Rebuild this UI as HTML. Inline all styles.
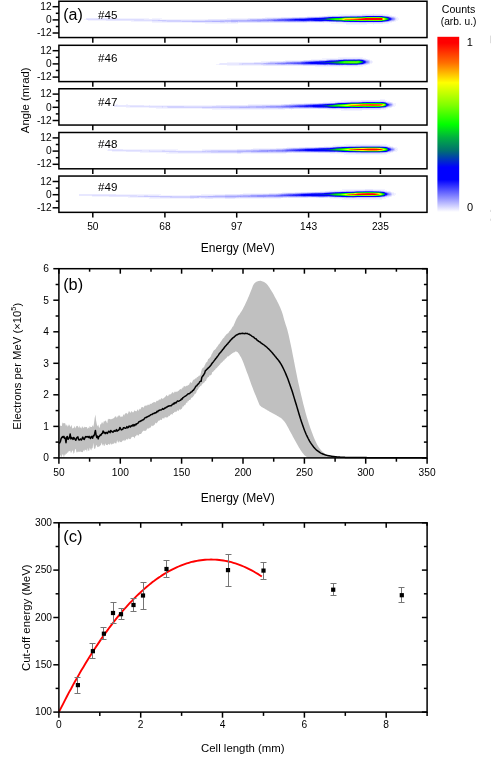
<!DOCTYPE html>
<html><head><meta charset="utf-8"><title>Figure</title>
<style>html,body{margin:0;padding:0;background:#fff;}body{width:491px;height:758px;overflow:hidden;}svg{display:block;will-change:transform;}text{font-family:"Liberation Sans",sans-serif;fill:#000;}</style>
</head><body>
<svg width="491" height="758" viewBox="0 0 491 758">
<defs>
<linearGradient id="cb" x1="0" y1="0" x2="0" y2="1">
<stop offset="0" stop-color="#ff0000"/>
<stop offset="0.035" stop-color="#ff0000"/>
<stop offset="0.15" stop-color="#ff7000"/>
<stop offset="0.262" stop-color="#ffff00"/>
<stop offset="0.39" stop-color="#80ff00"/>
<stop offset="0.5" stop-color="#00ff00"/>
<stop offset="0.575" stop-color="#00b040"/>
<stop offset="0.65" stop-color="#007070"/>
<stop offset="0.745" stop-color="#0000ff"/>
<stop offset="0.815" stop-color="#0000ff"/>
<stop offset="1" stop-color="#ffffff"/>
</linearGradient>
<filter id="b1" x="-5%" y="-100%" width="110%" height="300%"><feGaussianBlur stdDeviation="1.1 0.7"/></filter>
<filter id="b2" x="-5%" y="-100%" width="110%" height="300%"><feGaussianBlur stdDeviation="0.8 0.45"/></filter>
<filter id="b3" x="-5%" y="-200%" width="110%" height="500%"><feGaussianBlur stdDeviation="2 1.2"/></filter>
</defs>
<rect width="491" height="758" fill="#fff"/>
<defs>
<filter id="cm" filterUnits="userSpaceOnUse" x="60" y="0" width="366.5" height="213" color-interpolation-filters="sRGB">
<feColorMatrix type="matrix" values="0 0 0 1 0  0 0 0 1 0  0 0 0 1 0  0 0 0 0 1"/>
<feComponentTransfer><feFuncR type="table" tableValues="1 0.913 0.826 0.74 0.653 0.566 0.479 0.392 0.306 0.219 0.132 0.045 0 0 0 0 0 0 0 0 0 0 0 0 0 0 0 0 0 0 0 0 0 0.071 0.142 0.213 0.284 0.355 0.426 0.497 0.559 0.62 0.681 0.742 0.803 0.864 0.925 0.986 1 1 1 1 1 1 1 1 1 1 1 1 1 1 1 1 1 1 1 1 1 1 1 1 1 1 1 1 1 1 1 1 1 1 1 1 1 1 1 1 1 1 1 1 1 1 1 1 1 1 1 1 1 1 1 1 1 1 1 1 1 1 1 1 1 1 1 1 1 1 1 1 1 1 1 1 1 1 1 1 1"/><feFuncG type="table" tableValues="1 0.913 0.826 0.74 0.653 0.566 0.479 0.392 0.306 0.219 0.132 0.045 0 0 0 0 0.044 0.113 0.181 0.25 0.319 0.388 0.452 0.501 0.549 0.598 0.647 0.697 0.758 0.818 0.879 0.939 1 1 1 1 1 1 1 1 1 1 1 1 1 1 1 1 0.94 0.862 0.784 0.706 0.627 0.549 0.471 0.399 0.33 0.261 0.192 0.124 0.055 0 0 0 0 0 0 0 0 0 0 0 0 0 0 0 0 0 0 0 0 0 0 0 0 0 0 0 0 0 0 0 0 0 0 0 0 0 0 0 0 0 0 0 0 0 0 0 0 0 0 0 0 0 0 0 0 0 0 0 0 0 0 0 0 0 0 0 0"/><feFuncB type="table" tableValues="1 1 1 1 1 1 1 1 1 1 1 1 1 1 1 1 0.944 0.857 0.769 0.681 0.594 0.507 0.431 0.394 0.357 0.32 0.283 0.244 0.195 0.146 0.098 0.049 0 0 0 0 0 0 0 0 0 0 0 0 0 0 0 0 0 0 0 0 0 0 0 0 0 0 0 0 0 0 0 0 0 0 0 0 0 0 0 0 0 0 0 0 0 0 0 0 0 0 0 0 0 0 0 0 0 0 0 0 0 0 0 0 0 0 0 0 0 0 0 0 0 0 0 0 0 0 0 0 0 0 0 0 0 0 0 0 0 0 0 0 0 0 0 0 0"/></feComponentTransfer>
</filter>
<filter id="sb1" filterUnits="userSpaceOnUse" x="60" y="0" width="366" height="213"><feGaussianBlur stdDeviation="0 1.0"/></filter>
<filter id="sb2" filterUnits="userSpaceOnUse" x="60" y="0" width="366" height="213"><feGaussianBlur stdDeviation="0 1.6"/></filter>
<filter id="sb3" filterUnits="userSpaceOnUse" x="60" y="0" width="366" height="213"><feGaussianBlur stdDeviation="0 2.1"/></filter>
</defs>
<defs>
<linearGradient id="g0T" gradientUnits="userSpaceOnUse" x1="83.0" x2="399.2">
<stop offset="0.000" stop-color="#fff" stop-opacity="0"/>
<stop offset="0.016" stop-color="#fff" stop-opacity="0.007"/>
<stop offset="0.035" stop-color="#fff" stop-opacity="0.007"/>
<stop offset="0.054" stop-color="#fff" stop-opacity="0.007"/>
<stop offset="0.073" stop-color="#fff" stop-opacity="0.008"/>
<stop offset="0.092" stop-color="#fff" stop-opacity="0.008"/>
<stop offset="0.111" stop-color="#fff" stop-opacity="0.008"/>
<stop offset="0.130" stop-color="#fff" stop-opacity="0.008"/>
<stop offset="0.149" stop-color="#fff" stop-opacity="0.008"/>
<stop offset="0.167" stop-color="#fff" stop-opacity="0.009"/>
<stop offset="0.186" stop-color="#fff" stop-opacity="0.009"/>
<stop offset="0.204" stop-color="#fff" stop-opacity="0.009"/>
<stop offset="0.222" stop-color="#fff" stop-opacity="0.009"/>
<stop offset="0.241" stop-color="#fff" stop-opacity="0.01"/>
<stop offset="0.259" stop-color="#fff" stop-opacity="0.01"/>
<stop offset="0.278" stop-color="#fff" stop-opacity="0.01"/>
<stop offset="0.296" stop-color="#fff" stop-opacity="0.01"/>
<stop offset="0.315" stop-color="#fff" stop-opacity="0.01"/>
<stop offset="0.333" stop-color="#fff" stop-opacity="0.01"/>
<stop offset="0.352" stop-color="#fff" stop-opacity="0.01"/>
<stop offset="0.370" stop-color="#fff" stop-opacity="0.01"/>
<stop offset="0.388" stop-color="#fff" stop-opacity="0.01"/>
<stop offset="0.406" stop-color="#fff" stop-opacity="0.01"/>
<stop offset="0.425" stop-color="#fff" stop-opacity="0.01"/>
<stop offset="0.443" stop-color="#fff" stop-opacity="0.01"/>
<stop offset="0.461" stop-color="#fff" stop-opacity="0.01"/>
<stop offset="0.479" stop-color="#fff" stop-opacity="0.01"/>
<stop offset="0.497" stop-color="#fff" stop-opacity="0.009"/>
<stop offset="0.515" stop-color="#fff" stop-opacity="0.009"/>
<stop offset="0.532" stop-color="#fff" stop-opacity="0.009"/>
<stop offset="0.548" stop-color="#fff" stop-opacity="0.009"/>
<stop offset="0.564" stop-color="#fff" stop-opacity="0.008"/>
<stop offset="0.591" stop-color="#fff" stop-opacity="0.009"/>
<stop offset="0.612" stop-color="#fff" stop-opacity="0.011"/>
<stop offset="0.633" stop-color="#fff" stop-opacity="0.012"/>
<stop offset="0.653" stop-color="#fff" stop-opacity="0.013"/>
<stop offset="0.674" stop-color="#fff" stop-opacity="0.014"/>
<stop offset="0.696" stop-color="#fff" stop-opacity="0.015"/>
<stop offset="0.719" stop-color="#fff" stop-opacity="0.015"/>
<stop offset="0.736" stop-color="#fff" stop-opacity="0.016"/>
<stop offset="0.753" stop-color="#fff" stop-opacity="0.016"/>
<stop offset="0.766" stop-color="#fff" stop-opacity="0.018"/>
<stop offset="0.785" stop-color="#fff" stop-opacity="0.026"/>
<stop offset="0.798" stop-color="#fff" stop-opacity="0.031"/>
<stop offset="0.817" stop-color="#fff" stop-opacity="0.035"/>
<stop offset="0.829" stop-color="#fff" stop-opacity="0.046"/>
<stop offset="0.855" stop-color="#fff" stop-opacity="0.05"/>
<stop offset="0.864" stop-color="#fff" stop-opacity="0.051"/>
<stop offset="0.880" stop-color="#fff" stop-opacity="0.04"/>
<stop offset="0.899" stop-color="#fff" stop-opacity="0.027"/>
<stop offset="0.905" stop-color="#fff" stop-opacity="0.022"/>
<stop offset="0.918" stop-color="#fff" stop-opacity="0.028"/>
<stop offset="0.935" stop-color="#fff" stop-opacity="0.034"/>
<stop offset="0.945" stop-color="#fff" stop-opacity="0.035"/>
<stop offset="0.948" stop-color="#fff" stop-opacity="0.03"/>
<stop offset="0.958" stop-color="#fff" stop-opacity="0.022"/>
<stop offset="0.965" stop-color="#fff" stop-opacity="0.015"/>
<stop offset="0.969" stop-color="#fff" stop-opacity="0.01"/>
<stop offset="0.977" stop-color="#fff" stop-opacity="0.005"/>
<stop offset="0.991" stop-color="#fff" stop-opacity="0.001"/>
<stop offset="1.000" stop-color="#fff" stop-opacity="0"/>
</linearGradient>
<linearGradient id="g0M" gradientUnits="userSpaceOnUse" x1="83.0" x2="399.2">
<stop offset="0.000" stop-color="#fff" stop-opacity="0"/>
<stop offset="0.016" stop-color="#fff" stop-opacity="0.006"/>
<stop offset="0.035" stop-color="#fff" stop-opacity="0.007"/>
<stop offset="0.054" stop-color="#fff" stop-opacity="0.007"/>
<stop offset="0.073" stop-color="#fff" stop-opacity="0.008"/>
<stop offset="0.092" stop-color="#fff" stop-opacity="0.009"/>
<stop offset="0.111" stop-color="#fff" stop-opacity="0.009"/>
<stop offset="0.130" stop-color="#fff" stop-opacity="0.01"/>
<stop offset="0.149" stop-color="#fff" stop-opacity="0.011"/>
<stop offset="0.167" stop-color="#fff" stop-opacity="0.012"/>
<stop offset="0.186" stop-color="#fff" stop-opacity="0.012"/>
<stop offset="0.204" stop-color="#fff" stop-opacity="0.013"/>
<stop offset="0.222" stop-color="#fff" stop-opacity="0.014"/>
<stop offset="0.241" stop-color="#fff" stop-opacity="0.015"/>
<stop offset="0.259" stop-color="#fff" stop-opacity="0.016"/>
<stop offset="0.278" stop-color="#fff" stop-opacity="0.018"/>
<stop offset="0.296" stop-color="#fff" stop-opacity="0.019"/>
<stop offset="0.315" stop-color="#fff" stop-opacity="0.02"/>
<stop offset="0.333" stop-color="#fff" stop-opacity="0.021"/>
<stop offset="0.352" stop-color="#fff" stop-opacity="0.022"/>
<stop offset="0.370" stop-color="#fff" stop-opacity="0.023"/>
<stop offset="0.388" stop-color="#fff" stop-opacity="0.026"/>
<stop offset="0.406" stop-color="#fff" stop-opacity="0.029"/>
<stop offset="0.425" stop-color="#fff" stop-opacity="0.032"/>
<stop offset="0.443" stop-color="#fff" stop-opacity="0.035"/>
<stop offset="0.461" stop-color="#fff" stop-opacity="0.038"/>
<stop offset="0.479" stop-color="#fff" stop-opacity="0.041"/>
<stop offset="0.497" stop-color="#fff" stop-opacity="0.045"/>
<stop offset="0.515" stop-color="#fff" stop-opacity="0.048"/>
<stop offset="0.532" stop-color="#fff" stop-opacity="0.054"/>
<stop offset="0.548" stop-color="#fff" stop-opacity="0.06"/>
<stop offset="0.564" stop-color="#fff" stop-opacity="0.067"/>
<stop offset="0.591" stop-color="#fff" stop-opacity="0.076"/>
<stop offset="0.612" stop-color="#fff" stop-opacity="0.096"/>
<stop offset="0.633" stop-color="#fff" stop-opacity="0.116"/>
<stop offset="0.653" stop-color="#fff" stop-opacity="0.137"/>
<stop offset="0.674" stop-color="#fff" stop-opacity="0.159"/>
<stop offset="0.696" stop-color="#fff" stop-opacity="0.18"/>
<stop offset="0.719" stop-color="#fff" stop-opacity="0.201"/>
<stop offset="0.736" stop-color="#fff" stop-opacity="0.228"/>
<stop offset="0.753" stop-color="#fff" stop-opacity="0.255"/>
<stop offset="0.766" stop-color="#fff" stop-opacity="0.273"/>
<stop offset="0.785" stop-color="#fff" stop-opacity="0.409"/>
<stop offset="0.798" stop-color="#fff" stop-opacity="0.487"/>
<stop offset="0.817" stop-color="#fff" stop-opacity="0.546"/>
<stop offset="0.829" stop-color="#fff" stop-opacity="0.721"/>
<stop offset="0.855" stop-color="#fff" stop-opacity="0.77"/>
<stop offset="0.864" stop-color="#fff" stop-opacity="0.792"/>
<stop offset="0.880" stop-color="#fff" stop-opacity="0.854"/>
<stop offset="0.899" stop-color="#fff" stop-opacity="0.968"/>
<stop offset="0.905" stop-color="#fff" stop-opacity="0.995"/>
<stop offset="0.918" stop-color="#fff" stop-opacity="1"/>
<stop offset="0.935" stop-color="#fff" stop-opacity="0.998"/>
<stop offset="0.945" stop-color="#fff" stop-opacity="0.919"/>
<stop offset="0.948" stop-color="#fff" stop-opacity="0.754"/>
<stop offset="0.958" stop-color="#fff" stop-opacity="0.505"/>
<stop offset="0.965" stop-color="#fff" stop-opacity="0.322"/>
<stop offset="0.969" stop-color="#fff" stop-opacity="0.2"/>
<stop offset="0.977" stop-color="#fff" stop-opacity="0.1"/>
<stop offset="0.991" stop-color="#fff" stop-opacity="0.02"/>
<stop offset="1.000" stop-color="#fff" stop-opacity="0"/>
</linearGradient>
<linearGradient id="g5W" gradientUnits="userSpaceOnUse" x1="306.2" x2="399.2">
<stop offset="0.000" stop-color="#fff" stop-opacity="0"/>
<stop offset="0.043" stop-color="#fff" stop-opacity="0.002"/>
<stop offset="0.124" stop-color="#fff" stop-opacity="0.009"/>
<stop offset="0.204" stop-color="#fff" stop-opacity="0.016"/>
<stop offset="0.269" stop-color="#fff" stop-opacity="0.031"/>
<stop offset="0.312" stop-color="#fff" stop-opacity="0.043"/>
<stop offset="0.376" stop-color="#fff" stop-opacity="0.058"/>
<stop offset="0.419" stop-color="#fff" stop-opacity="0.086"/>
<stop offset="0.505" stop-color="#fff" stop-opacity="0.11"/>
<stop offset="0.591" stop-color="#fff" stop-opacity="0.139"/>
<stop offset="0.656" stop-color="#fff" stop-opacity="0.152"/>
<stop offset="0.720" stop-color="#fff" stop-opacity="0.159"/>
<stop offset="0.780" stop-color="#fff" stop-opacity="0.158"/>
<stop offset="0.812" stop-color="#fff" stop-opacity="0.147"/>
<stop offset="0.825" stop-color="#fff" stop-opacity="0.121"/>
<stop offset="0.857" stop-color="#fff" stop-opacity="0.082"/>
<stop offset="0.880" stop-color="#fff" stop-opacity="0.052"/>
<stop offset="0.896" stop-color="#fff" stop-opacity="0.033"/>
<stop offset="0.923" stop-color="#fff" stop-opacity="0.016"/>
<stop offset="0.968" stop-color="#fff" stop-opacity="0.003"/>
<stop offset="1.000" stop-color="#fff" stop-opacity="0"/>
</linearGradient>
<linearGradient id="g1T" gradientUnits="userSpaceOnUse" x1="212.0" x2="373.4">
<stop offset="0.000" stop-color="#fff" stop-opacity="0"/>
<stop offset="0.040" stop-color="#fff" stop-opacity="0.003"/>
<stop offset="0.081" stop-color="#fff" stop-opacity="0.005"/>
<stop offset="0.118" stop-color="#fff" stop-opacity="0.006"/>
<stop offset="0.155" stop-color="#fff" stop-opacity="0.007"/>
<stop offset="0.192" stop-color="#fff" stop-opacity="0.008"/>
<stop offset="0.229" stop-color="#fff" stop-opacity="0.008"/>
<stop offset="0.266" stop-color="#fff" stop-opacity="0.009"/>
<stop offset="0.304" stop-color="#fff" stop-opacity="0.009"/>
<stop offset="0.331" stop-color="#fff" stop-opacity="0.011"/>
<stop offset="0.359" stop-color="#fff" stop-opacity="0.012"/>
<stop offset="0.397" stop-color="#fff" stop-opacity="0.014"/>
<stop offset="0.434" stop-color="#fff" stop-opacity="0.014"/>
<stop offset="0.471" stop-color="#fff" stop-opacity="0.014"/>
<stop offset="0.508" stop-color="#fff" stop-opacity="0.014"/>
<stop offset="0.545" stop-color="#fff" stop-opacity="0.013"/>
<stop offset="0.592" stop-color="#fff" stop-opacity="0.016"/>
<stop offset="0.638" stop-color="#fff" stop-opacity="0.017"/>
<stop offset="0.670" stop-color="#fff" stop-opacity="0.017"/>
<stop offset="0.703" stop-color="#fff" stop-opacity="0.016"/>
<stop offset="0.719" stop-color="#fff" stop-opacity="0.014"/>
<stop offset="0.748" stop-color="#fff" stop-opacity="0.011"/>
<stop offset="0.777" stop-color="#fff" stop-opacity="0.006"/>
<stop offset="0.820" stop-color="#fff" stop-opacity="0"/>
<stop offset="0.857" stop-color="#fff" stop-opacity="0"/>
<stop offset="0.864" stop-color="#fff" stop-opacity="0"/>
<stop offset="0.895" stop-color="#fff" stop-opacity="0"/>
<stop offset="0.910" stop-color="#fff" stop-opacity="0"/>
<stop offset="0.932" stop-color="#fff" stop-opacity="0"/>
<stop offset="0.940" stop-color="#fff" stop-opacity="0"/>
<stop offset="0.955" stop-color="#fff" stop-opacity="0"/>
<stop offset="0.981" stop-color="#fff" stop-opacity="0"/>
<stop offset="1.000" stop-color="#fff" stop-opacity="0"/>
</linearGradient>
<linearGradient id="g1M" gradientUnits="userSpaceOnUse" x1="212.0" x2="373.4">
<stop offset="0.000" stop-color="#fff" stop-opacity="0"/>
<stop offset="0.040" stop-color="#fff" stop-opacity="0.003"/>
<stop offset="0.081" stop-color="#fff" stop-opacity="0.007"/>
<stop offset="0.118" stop-color="#fff" stop-opacity="0.009"/>
<stop offset="0.155" stop-color="#fff" stop-opacity="0.012"/>
<stop offset="0.192" stop-color="#fff" stop-opacity="0.015"/>
<stop offset="0.229" stop-color="#fff" stop-opacity="0.018"/>
<stop offset="0.266" stop-color="#fff" stop-opacity="0.022"/>
<stop offset="0.304" stop-color="#fff" stop-opacity="0.025"/>
<stop offset="0.331" stop-color="#fff" stop-opacity="0.032"/>
<stop offset="0.359" stop-color="#fff" stop-opacity="0.04"/>
<stop offset="0.397" stop-color="#fff" stop-opacity="0.051"/>
<stop offset="0.434" stop-color="#fff" stop-opacity="0.063"/>
<stop offset="0.471" stop-color="#fff" stop-opacity="0.076"/>
<stop offset="0.508" stop-color="#fff" stop-opacity="0.09"/>
<stop offset="0.545" stop-color="#fff" stop-opacity="0.105"/>
<stop offset="0.592" stop-color="#fff" stop-opacity="0.145"/>
<stop offset="0.638" stop-color="#fff" stop-opacity="0.187"/>
<stop offset="0.670" stop-color="#fff" stop-opacity="0.218"/>
<stop offset="0.703" stop-color="#fff" stop-opacity="0.25"/>
<stop offset="0.719" stop-color="#fff" stop-opacity="0.269"/>
<stop offset="0.748" stop-color="#fff" stop-opacity="0.325"/>
<stop offset="0.777" stop-color="#fff" stop-opacity="0.385"/>
<stop offset="0.820" stop-color="#fff" stop-opacity="0.528"/>
<stop offset="0.857" stop-color="#fff" stop-opacity="0.507"/>
<stop offset="0.864" stop-color="#fff" stop-opacity="0.514"/>
<stop offset="0.895" stop-color="#fff" stop-opacity="0.533"/>
<stop offset="0.910" stop-color="#fff" stop-opacity="0.517"/>
<stop offset="0.932" stop-color="#fff" stop-opacity="0.339"/>
<stop offset="0.940" stop-color="#fff" stop-opacity="0.214"/>
<stop offset="0.955" stop-color="#fff" stop-opacity="0.109"/>
<stop offset="0.981" stop-color="#fff" stop-opacity="0.022"/>
<stop offset="1.000" stop-color="#fff" stop-opacity="0"/>
</linearGradient>
<linearGradient id="g1H" gradientUnits="userSpaceOnUse" x1="337.4" x2="370.4">
<stop offset="0.000" stop-color="#fff" stop-opacity="0"/>
<stop offset="0.212" stop-color="#fff" stop-opacity="0.026"/>
<stop offset="0.394" stop-color="#fff" stop-opacity="0.081"/>
<stop offset="0.424" stop-color="#fff" stop-opacity="0.077"/>
<stop offset="0.576" stop-color="#fff" stop-opacity="0.054"/>
<stop offset="0.652" stop-color="#fff" stop-opacity="0.04"/>
<stop offset="0.758" stop-color="#fff" stop-opacity="0.016"/>
<stop offset="0.797" stop-color="#fff" stop-opacity="0.007"/>
<stop offset="0.873" stop-color="#fff" stop-opacity="0.001"/>
<stop offset="1.000" stop-color="#fff" stop-opacity="0"/>
</linearGradient>
<linearGradient id="g6W" gradientUnits="userSpaceOnUse" x1="280.4" x2="373.4">
<stop offset="0.000" stop-color="#fff" stop-opacity="0"/>
<stop offset="0.070" stop-color="#fff" stop-opacity="0.002"/>
<stop offset="0.141" stop-color="#fff" stop-opacity="0.005"/>
<stop offset="0.211" stop-color="#fff" stop-opacity="0.007"/>
<stop offset="0.291" stop-color="#fff" stop-opacity="0.014"/>
<stop offset="0.372" stop-color="#fff" stop-opacity="0.021"/>
<stop offset="0.442" stop-color="#fff" stop-opacity="0.029"/>
<stop offset="0.512" stop-color="#fff" stop-opacity="0.038"/>
<stop offset="0.562" stop-color="#fff" stop-opacity="0.048"/>
<stop offset="0.613" stop-color="#fff" stop-opacity="0.059"/>
<stop offset="0.688" stop-color="#fff" stop-opacity="0.082"/>
<stop offset="0.763" stop-color="#fff" stop-opacity="0.086"/>
<stop offset="0.817" stop-color="#fff" stop-opacity="0.086"/>
<stop offset="0.844" stop-color="#fff" stop-opacity="0.082"/>
<stop offset="0.882" stop-color="#fff" stop-opacity="0.052"/>
<stop offset="0.896" stop-color="#fff" stop-opacity="0.033"/>
<stop offset="0.923" stop-color="#fff" stop-opacity="0.016"/>
<stop offset="0.968" stop-color="#fff" stop-opacity="0.003"/>
<stop offset="1.000" stop-color="#fff" stop-opacity="0"/>
</linearGradient>
<linearGradient id="g2T" gradientUnits="userSpaceOnUse" x1="108.0" x2="396.4">
<stop offset="0.000" stop-color="#fff" stop-opacity="0"/>
<stop offset="0.028" stop-color="#fff" stop-opacity="0.006"/>
<stop offset="0.047" stop-color="#fff" stop-opacity="0.006"/>
<stop offset="0.067" stop-color="#fff" stop-opacity="0.006"/>
<stop offset="0.087" stop-color="#fff" stop-opacity="0.007"/>
<stop offset="0.106" stop-color="#fff" stop-opacity="0.007"/>
<stop offset="0.126" stop-color="#fff" stop-opacity="0.007"/>
<stop offset="0.146" stop-color="#fff" stop-opacity="0.008"/>
<stop offset="0.167" stop-color="#fff" stop-opacity="0.008"/>
<stop offset="0.189" stop-color="#fff" stop-opacity="0.008"/>
<stop offset="0.211" stop-color="#fff" stop-opacity="0.008"/>
<stop offset="0.232" stop-color="#fff" stop-opacity="0.009"/>
<stop offset="0.254" stop-color="#fff" stop-opacity="0.009"/>
<stop offset="0.276" stop-color="#fff" stop-opacity="0.009"/>
<stop offset="0.297" stop-color="#fff" stop-opacity="0.009"/>
<stop offset="0.319" stop-color="#fff" stop-opacity="0.009"/>
<stop offset="0.339" stop-color="#fff" stop-opacity="0.009"/>
<stop offset="0.359" stop-color="#fff" stop-opacity="0.009"/>
<stop offset="0.379" stop-color="#fff" stop-opacity="0.009"/>
<stop offset="0.399" stop-color="#fff" stop-opacity="0.009"/>
<stop offset="0.419" stop-color="#fff" stop-opacity="0.008"/>
<stop offset="0.439" stop-color="#fff" stop-opacity="0.008"/>
<stop offset="0.459" stop-color="#fff" stop-opacity="0.008"/>
<stop offset="0.479" stop-color="#fff" stop-opacity="0.007"/>
<stop offset="0.500" stop-color="#fff" stop-opacity="0.007"/>
<stop offset="0.521" stop-color="#fff" stop-opacity="0.007"/>
<stop offset="0.540" stop-color="#fff" stop-opacity="0.007"/>
<stop offset="0.559" stop-color="#fff" stop-opacity="0.007"/>
<stop offset="0.578" stop-color="#fff" stop-opacity="0.007"/>
<stop offset="0.596" stop-color="#fff" stop-opacity="0.007"/>
<stop offset="0.617" stop-color="#fff" stop-opacity="0.008"/>
<stop offset="0.638" stop-color="#fff" stop-opacity="0.01"/>
<stop offset="0.659" stop-color="#fff" stop-opacity="0.01"/>
<stop offset="0.680" stop-color="#fff" stop-opacity="0.011"/>
<stop offset="0.700" stop-color="#fff" stop-opacity="0.012"/>
<stop offset="0.712" stop-color="#fff" stop-opacity="0.013"/>
<stop offset="0.730" stop-color="#fff" stop-opacity="0.014"/>
<stop offset="0.757" stop-color="#fff" stop-opacity="0.018"/>
<stop offset="0.782" stop-color="#fff" stop-opacity="0.026"/>
<stop offset="0.799" stop-color="#fff" stop-opacity="0.031"/>
<stop offset="0.821" stop-color="#fff" stop-opacity="0.039"/>
<stop offset="0.844" stop-color="#fff" stop-opacity="0.046"/>
<stop offset="0.851" stop-color="#fff" stop-opacity="0.047"/>
<stop offset="0.868" stop-color="#fff" stop-opacity="0.037"/>
<stop offset="0.886" stop-color="#fff" stop-opacity="0.026"/>
<stop offset="0.896" stop-color="#fff" stop-opacity="0.019"/>
<stop offset="0.920" stop-color="#fff" stop-opacity="0.027"/>
<stop offset="0.941" stop-color="#fff" stop-opacity="0.032"/>
<stop offset="0.951" stop-color="#fff" stop-opacity="0.032"/>
<stop offset="0.961" stop-color="#fff" stop-opacity="0.024"/>
<stop offset="0.965" stop-color="#fff" stop-opacity="0.016"/>
<stop offset="0.966" stop-color="#fff" stop-opacity="0.01"/>
<stop offset="0.975" stop-color="#fff" stop-opacity="0.005"/>
<stop offset="0.990" stop-color="#fff" stop-opacity="0.001"/>
<stop offset="1.000" stop-color="#fff" stop-opacity="0"/>
</linearGradient>
<linearGradient id="g2M" gradientUnits="userSpaceOnUse" x1="108.0" x2="396.4">
<stop offset="0.000" stop-color="#fff" stop-opacity="0"/>
<stop offset="0.028" stop-color="#fff" stop-opacity="0.006"/>
<stop offset="0.047" stop-color="#fff" stop-opacity="0.007"/>
<stop offset="0.067" stop-color="#fff" stop-opacity="0.008"/>
<stop offset="0.087" stop-color="#fff" stop-opacity="0.009"/>
<stop offset="0.106" stop-color="#fff" stop-opacity="0.01"/>
<stop offset="0.126" stop-color="#fff" stop-opacity="0.01"/>
<stop offset="0.146" stop-color="#fff" stop-opacity="0.011"/>
<stop offset="0.167" stop-color="#fff" stop-opacity="0.012"/>
<stop offset="0.189" stop-color="#fff" stop-opacity="0.014"/>
<stop offset="0.211" stop-color="#fff" stop-opacity="0.015"/>
<stop offset="0.232" stop-color="#fff" stop-opacity="0.016"/>
<stop offset="0.254" stop-color="#fff" stop-opacity="0.017"/>
<stop offset="0.276" stop-color="#fff" stop-opacity="0.018"/>
<stop offset="0.297" stop-color="#fff" stop-opacity="0.02"/>
<stop offset="0.319" stop-color="#fff" stop-opacity="0.021"/>
<stop offset="0.339" stop-color="#fff" stop-opacity="0.023"/>
<stop offset="0.359" stop-color="#fff" stop-opacity="0.025"/>
<stop offset="0.379" stop-color="#fff" stop-opacity="0.028"/>
<stop offset="0.399" stop-color="#fff" stop-opacity="0.03"/>
<stop offset="0.419" stop-color="#fff" stop-opacity="0.033"/>
<stop offset="0.439" stop-color="#fff" stop-opacity="0.035"/>
<stop offset="0.459" stop-color="#fff" stop-opacity="0.038"/>
<stop offset="0.479" stop-color="#fff" stop-opacity="0.041"/>
<stop offset="0.500" stop-color="#fff" stop-opacity="0.046"/>
<stop offset="0.521" stop-color="#fff" stop-opacity="0.052"/>
<stop offset="0.540" stop-color="#fff" stop-opacity="0.056"/>
<stop offset="0.559" stop-color="#fff" stop-opacity="0.06"/>
<stop offset="0.578" stop-color="#fff" stop-opacity="0.064"/>
<stop offset="0.596" stop-color="#fff" stop-opacity="0.068"/>
<stop offset="0.617" stop-color="#fff" stop-opacity="0.087"/>
<stop offset="0.638" stop-color="#fff" stop-opacity="0.105"/>
<stop offset="0.659" stop-color="#fff" stop-opacity="0.124"/>
<stop offset="0.680" stop-color="#fff" stop-opacity="0.144"/>
<stop offset="0.700" stop-color="#fff" stop-opacity="0.163"/>
<stop offset="0.712" stop-color="#fff" stop-opacity="0.184"/>
<stop offset="0.730" stop-color="#fff" stop-opacity="0.219"/>
<stop offset="0.757" stop-color="#fff" stop-opacity="0.273"/>
<stop offset="0.782" stop-color="#fff" stop-opacity="0.409"/>
<stop offset="0.799" stop-color="#fff" stop-opacity="0.487"/>
<stop offset="0.821" stop-color="#fff" stop-opacity="0.604"/>
<stop offset="0.844" stop-color="#fff" stop-opacity="0.721"/>
<stop offset="0.851" stop-color="#fff" stop-opacity="0.731"/>
<stop offset="0.868" stop-color="#fff" stop-opacity="0.779"/>
<stop offset="0.886" stop-color="#fff" stop-opacity="0.828"/>
<stop offset="0.896" stop-color="#fff" stop-opacity="0.85"/>
<stop offset="0.920" stop-color="#fff" stop-opacity="0.854"/>
<stop offset="0.941" stop-color="#fff" stop-opacity="0.826"/>
<stop offset="0.951" stop-color="#fff" stop-opacity="0.75"/>
<stop offset="0.961" stop-color="#fff" stop-opacity="0.503"/>
<stop offset="0.965" stop-color="#fff" stop-opacity="0.321"/>
<stop offset="0.966" stop-color="#fff" stop-opacity="0.2"/>
<stop offset="0.975" stop-color="#fff" stop-opacity="0.1"/>
<stop offset="0.990" stop-color="#fff" stop-opacity="0.02"/>
<stop offset="1.000" stop-color="#fff" stop-opacity="0"/>
</linearGradient>
<linearGradient id="g7W" gradientUnits="userSpaceOnUse" x1="303.4" x2="396.4">
<stop offset="0.000" stop-color="#fff" stop-opacity="0"/>
<stop offset="0.071" stop-color="#fff" stop-opacity="0.003"/>
<stop offset="0.108" stop-color="#fff" stop-opacity="0.006"/>
<stop offset="0.177" stop-color="#fff" stop-opacity="0.012"/>
<stop offset="0.247" stop-color="#fff" stop-opacity="0.019"/>
<stop offset="0.323" stop-color="#fff" stop-opacity="0.037"/>
<stop offset="0.376" stop-color="#fff" stop-opacity="0.052"/>
<stop offset="0.446" stop-color="#fff" stop-opacity="0.079"/>
<stop offset="0.516" stop-color="#fff" stop-opacity="0.105"/>
<stop offset="0.581" stop-color="#fff" stop-opacity="0.118"/>
<stop offset="0.645" stop-color="#fff" stop-opacity="0.131"/>
<stop offset="0.699" stop-color="#fff" stop-opacity="0.133"/>
<stop offset="0.753" stop-color="#fff" stop-opacity="0.135"/>
<stop offset="0.817" stop-color="#fff" stop-opacity="0.132"/>
<stop offset="0.847" stop-color="#fff" stop-opacity="0.121"/>
<stop offset="0.880" stop-color="#fff" stop-opacity="0.082"/>
<stop offset="0.890" stop-color="#fff" stop-opacity="0.052"/>
<stop offset="0.896" stop-color="#fff" stop-opacity="0.033"/>
<stop offset="0.923" stop-color="#fff" stop-opacity="0.016"/>
<stop offset="0.968" stop-color="#fff" stop-opacity="0.003"/>
<stop offset="1.000" stop-color="#fff" stop-opacity="0"/>
</linearGradient>
<linearGradient id="g3T" gradientUnits="userSpaceOnUse" x1="104.0" x2="399.5">
<stop offset="0.000" stop-color="#fff" stop-opacity="0"/>
<stop offset="0.027" stop-color="#fff" stop-opacity="0.006"/>
<stop offset="0.049" stop-color="#fff" stop-opacity="0.006"/>
<stop offset="0.070" stop-color="#fff" stop-opacity="0.006"/>
<stop offset="0.091" stop-color="#fff" stop-opacity="0.007"/>
<stop offset="0.113" stop-color="#fff" stop-opacity="0.007"/>
<stop offset="0.134" stop-color="#fff" stop-opacity="0.007"/>
<stop offset="0.156" stop-color="#fff" stop-opacity="0.008"/>
<stop offset="0.177" stop-color="#fff" stop-opacity="0.008"/>
<stop offset="0.198" stop-color="#fff" stop-opacity="0.008"/>
<stop offset="0.219" stop-color="#fff" stop-opacity="0.008"/>
<stop offset="0.240" stop-color="#fff" stop-opacity="0.009"/>
<stop offset="0.261" stop-color="#fff" stop-opacity="0.009"/>
<stop offset="0.283" stop-color="#fff" stop-opacity="0.009"/>
<stop offset="0.304" stop-color="#fff" stop-opacity="0.009"/>
<stop offset="0.325" stop-color="#fff" stop-opacity="0.009"/>
<stop offset="0.344" stop-color="#fff" stop-opacity="0.009"/>
<stop offset="0.364" stop-color="#fff" stop-opacity="0.009"/>
<stop offset="0.383" stop-color="#fff" stop-opacity="0.009"/>
<stop offset="0.403" stop-color="#fff" stop-opacity="0.009"/>
<stop offset="0.422" stop-color="#fff" stop-opacity="0.009"/>
<stop offset="0.442" stop-color="#fff" stop-opacity="0.009"/>
<stop offset="0.461" stop-color="#fff" stop-opacity="0.009"/>
<stop offset="0.481" stop-color="#fff" stop-opacity="0.008"/>
<stop offset="0.498" stop-color="#fff" stop-opacity="0.008"/>
<stop offset="0.516" stop-color="#fff" stop-opacity="0.008"/>
<stop offset="0.533" stop-color="#fff" stop-opacity="0.008"/>
<stop offset="0.554" stop-color="#fff" stop-opacity="0.008"/>
<stop offset="0.575" stop-color="#fff" stop-opacity="0.008"/>
<stop offset="0.596" stop-color="#fff" stop-opacity="0.008"/>
<stop offset="0.617" stop-color="#fff" stop-opacity="0.01"/>
<stop offset="0.638" stop-color="#fff" stop-opacity="0.011"/>
<stop offset="0.659" stop-color="#fff" stop-opacity="0.012"/>
<stop offset="0.680" stop-color="#fff" stop-opacity="0.013"/>
<stop offset="0.689" stop-color="#fff" stop-opacity="0.014"/>
<stop offset="0.712" stop-color="#fff" stop-opacity="0.015"/>
<stop offset="0.736" stop-color="#fff" stop-opacity="0.016"/>
<stop offset="0.763" stop-color="#fff" stop-opacity="0.018"/>
<stop offset="0.787" stop-color="#fff" stop-opacity="0.026"/>
<stop offset="0.804" stop-color="#fff" stop-opacity="0.031"/>
<stop offset="0.819" stop-color="#fff" stop-opacity="0.039"/>
<stop offset="0.834" stop-color="#fff" stop-opacity="0.046"/>
<stop offset="0.854" stop-color="#fff" stop-opacity="0.051"/>
<stop offset="0.865" stop-color="#fff" stop-opacity="0.046"/>
<stop offset="0.888" stop-color="#fff" stop-opacity="0.03"/>
<stop offset="0.898" stop-color="#fff" stop-opacity="0.022"/>
<stop offset="0.905" stop-color="#fff" stop-opacity="0.025"/>
<stop offset="0.922" stop-color="#fff" stop-opacity="0.031"/>
<stop offset="0.931" stop-color="#fff" stop-opacity="0.031"/>
<stop offset="0.942" stop-color="#fff" stop-opacity="0.029"/>
<stop offset="0.954" stop-color="#fff" stop-opacity="0.022"/>
<stop offset="0.960" stop-color="#fff" stop-opacity="0.015"/>
<stop offset="0.963" stop-color="#fff" stop-opacity="0.01"/>
<stop offset="0.972" stop-color="#fff" stop-opacity="0.005"/>
<stop offset="0.986" stop-color="#fff" stop-opacity="0.001"/>
<stop offset="1.000" stop-color="#fff" stop-opacity="0"/>
</linearGradient>
<linearGradient id="g3M" gradientUnits="userSpaceOnUse" x1="104.0" x2="399.5">
<stop offset="0.000" stop-color="#fff" stop-opacity="0"/>
<stop offset="0.027" stop-color="#fff" stop-opacity="0.006"/>
<stop offset="0.049" stop-color="#fff" stop-opacity="0.007"/>
<stop offset="0.070" stop-color="#fff" stop-opacity="0.008"/>
<stop offset="0.091" stop-color="#fff" stop-opacity="0.009"/>
<stop offset="0.113" stop-color="#fff" stop-opacity="0.009"/>
<stop offset="0.134" stop-color="#fff" stop-opacity="0.01"/>
<stop offset="0.156" stop-color="#fff" stop-opacity="0.011"/>
<stop offset="0.177" stop-color="#fff" stop-opacity="0.012"/>
<stop offset="0.198" stop-color="#fff" stop-opacity="0.014"/>
<stop offset="0.219" stop-color="#fff" stop-opacity="0.015"/>
<stop offset="0.240" stop-color="#fff" stop-opacity="0.016"/>
<stop offset="0.261" stop-color="#fff" stop-opacity="0.017"/>
<stop offset="0.283" stop-color="#fff" stop-opacity="0.018"/>
<stop offset="0.304" stop-color="#fff" stop-opacity="0.02"/>
<stop offset="0.325" stop-color="#fff" stop-opacity="0.021"/>
<stop offset="0.344" stop-color="#fff" stop-opacity="0.023"/>
<stop offset="0.364" stop-color="#fff" stop-opacity="0.026"/>
<stop offset="0.383" stop-color="#fff" stop-opacity="0.029"/>
<stop offset="0.403" stop-color="#fff" stop-opacity="0.032"/>
<stop offset="0.422" stop-color="#fff" stop-opacity="0.035"/>
<stop offset="0.442" stop-color="#fff" stop-opacity="0.038"/>
<stop offset="0.461" stop-color="#fff" stop-opacity="0.041"/>
<stop offset="0.481" stop-color="#fff" stop-opacity="0.044"/>
<stop offset="0.498" stop-color="#fff" stop-opacity="0.049"/>
<stop offset="0.516" stop-color="#fff" stop-opacity="0.055"/>
<stop offset="0.533" stop-color="#fff" stop-opacity="0.06"/>
<stop offset="0.554" stop-color="#fff" stop-opacity="0.066"/>
<stop offset="0.575" stop-color="#fff" stop-opacity="0.071"/>
<stop offset="0.596" stop-color="#fff" stop-opacity="0.077"/>
<stop offset="0.617" stop-color="#fff" stop-opacity="0.097"/>
<stop offset="0.638" stop-color="#fff" stop-opacity="0.118"/>
<stop offset="0.659" stop-color="#fff" stop-opacity="0.139"/>
<stop offset="0.680" stop-color="#fff" stop-opacity="0.161"/>
<stop offset="0.689" stop-color="#fff" stop-opacity="0.181"/>
<stop offset="0.712" stop-color="#fff" stop-opacity="0.211"/>
<stop offset="0.736" stop-color="#fff" stop-opacity="0.241"/>
<stop offset="0.763" stop-color="#fff" stop-opacity="0.273"/>
<stop offset="0.787" stop-color="#fff" stop-opacity="0.409"/>
<stop offset="0.804" stop-color="#fff" stop-opacity="0.487"/>
<stop offset="0.819" stop-color="#fff" stop-opacity="0.604"/>
<stop offset="0.834" stop-color="#fff" stop-opacity="0.721"/>
<stop offset="0.854" stop-color="#fff" stop-opacity="0.793"/>
<stop offset="0.865" stop-color="#fff" stop-opacity="0.844"/>
<stop offset="0.888" stop-color="#fff" stop-opacity="0.952"/>
<stop offset="0.898" stop-color="#fff" stop-opacity="0.997"/>
<stop offset="0.905" stop-color="#fff" stop-opacity="1"/>
<stop offset="0.922" stop-color="#fff" stop-opacity="0.989"/>
<stop offset="0.931" stop-color="#fff" stop-opacity="0.905"/>
<stop offset="0.942" stop-color="#fff" stop-opacity="0.755"/>
<stop offset="0.954" stop-color="#fff" stop-opacity="0.506"/>
<stop offset="0.960" stop-color="#fff" stop-opacity="0.322"/>
<stop offset="0.963" stop-color="#fff" stop-opacity="0.201"/>
<stop offset="0.972" stop-color="#fff" stop-opacity="0.1"/>
<stop offset="0.986" stop-color="#fff" stop-opacity="0.02"/>
<stop offset="1.000" stop-color="#fff" stop-opacity="0"/>
</linearGradient>
<linearGradient id="g8W" gradientUnits="userSpaceOnUse" x1="306.5" x2="399.5">
<stop offset="0.000" stop-color="#fff" stop-opacity="0"/>
<stop offset="0.011" stop-color="#fff" stop-opacity="0.001"/>
<stop offset="0.070" stop-color="#fff" stop-opacity="0.005"/>
<stop offset="0.129" stop-color="#fff" stop-opacity="0.01"/>
<stop offset="0.188" stop-color="#fff" stop-opacity="0.014"/>
<stop offset="0.247" stop-color="#fff" stop-opacity="0.019"/>
<stop offset="0.323" stop-color="#fff" stop-opacity="0.037"/>
<stop offset="0.376" stop-color="#fff" stop-opacity="0.052"/>
<stop offset="0.425" stop-color="#fff" stop-opacity="0.074"/>
<stop offset="0.473" stop-color="#fff" stop-opacity="0.097"/>
<stop offset="0.522" stop-color="#fff" stop-opacity="0.115"/>
<stop offset="0.570" stop-color="#fff" stop-opacity="0.134"/>
<stop offset="0.645" stop-color="#fff" stop-opacity="0.15"/>
<stop offset="0.699" stop-color="#fff" stop-opacity="0.157"/>
<stop offset="0.753" stop-color="#fff" stop-opacity="0.156"/>
<stop offset="0.780" stop-color="#fff" stop-opacity="0.144"/>
<stop offset="0.815" stop-color="#fff" stop-opacity="0.121"/>
<stop offset="0.855" stop-color="#fff" stop-opacity="0.082"/>
<stop offset="0.872" stop-color="#fff" stop-opacity="0.052"/>
<stop offset="0.883" stop-color="#fff" stop-opacity="0.033"/>
<stop offset="0.910" stop-color="#fff" stop-opacity="0.016"/>
<stop offset="0.957" stop-color="#fff" stop-opacity="0.003"/>
<stop offset="1.000" stop-color="#fff" stop-opacity="0"/>
</linearGradient>
<linearGradient id="g4T" gradientUnits="userSpaceOnUse" x1="76.0" x2="396.4">
<stop offset="0.000" stop-color="#fff" stop-opacity="0"/>
<stop offset="0.025" stop-color="#fff" stop-opacity="0.007"/>
<stop offset="0.044" stop-color="#fff" stop-opacity="0.007"/>
<stop offset="0.063" stop-color="#fff" stop-opacity="0.008"/>
<stop offset="0.083" stop-color="#fff" stop-opacity="0.008"/>
<stop offset="0.102" stop-color="#fff" stop-opacity="0.008"/>
<stop offset="0.121" stop-color="#fff" stop-opacity="0.009"/>
<stop offset="0.140" stop-color="#fff" stop-opacity="0.009"/>
<stop offset="0.159" stop-color="#fff" stop-opacity="0.009"/>
<stop offset="0.178" stop-color="#fff" stop-opacity="0.01"/>
<stop offset="0.197" stop-color="#fff" stop-opacity="0.01"/>
<stop offset="0.216" stop-color="#fff" stop-opacity="0.01"/>
<stop offset="0.235" stop-color="#fff" stop-opacity="0.01"/>
<stop offset="0.254" stop-color="#fff" stop-opacity="0.01"/>
<stop offset="0.273" stop-color="#fff" stop-opacity="0.011"/>
<stop offset="0.292" stop-color="#fff" stop-opacity="0.011"/>
<stop offset="0.311" stop-color="#fff" stop-opacity="0.011"/>
<stop offset="0.330" stop-color="#fff" stop-opacity="0.011"/>
<stop offset="0.349" stop-color="#fff" stop-opacity="0.011"/>
<stop offset="0.368" stop-color="#fff" stop-opacity="0.011"/>
<stop offset="0.387" stop-color="#fff" stop-opacity="0.011"/>
<stop offset="0.405" stop-color="#fff" stop-opacity="0.011"/>
<stop offset="0.423" stop-color="#fff" stop-opacity="0.011"/>
<stop offset="0.441" stop-color="#fff" stop-opacity="0.011"/>
<stop offset="0.459" stop-color="#fff" stop-opacity="0.011"/>
<stop offset="0.477" stop-color="#fff" stop-opacity="0.011"/>
<stop offset="0.495" stop-color="#fff" stop-opacity="0.01"/>
<stop offset="0.513" stop-color="#fff" stop-opacity="0.01"/>
<stop offset="0.531" stop-color="#fff" stop-opacity="0.009"/>
<stop offset="0.550" stop-color="#fff" stop-opacity="0.009"/>
<stop offset="0.569" stop-color="#fff" stop-opacity="0.008"/>
<stop offset="0.587" stop-color="#fff" stop-opacity="0.009"/>
<stop offset="0.604" stop-color="#fff" stop-opacity="0.009"/>
<stop offset="0.621" stop-color="#fff" stop-opacity="0.009"/>
<stop offset="0.641" stop-color="#fff" stop-opacity="0.01"/>
<stop offset="0.662" stop-color="#fff" stop-opacity="0.011"/>
<stop offset="0.682" stop-color="#fff" stop-opacity="0.012"/>
<stop offset="0.702" stop-color="#fff" stop-opacity="0.013"/>
<stop offset="0.710" stop-color="#fff" stop-opacity="0.014"/>
<stop offset="0.733" stop-color="#fff" stop-opacity="0.015"/>
<stop offset="0.757" stop-color="#fff" stop-opacity="0.015"/>
<stop offset="0.772" stop-color="#fff" stop-opacity="0.016"/>
<stop offset="0.788" stop-color="#fff" stop-opacity="0.018"/>
<stop offset="0.806" stop-color="#fff" stop-opacity="0.026"/>
<stop offset="0.819" stop-color="#fff" stop-opacity="0.03"/>
<stop offset="0.825" stop-color="#fff" stop-opacity="0.031"/>
<stop offset="0.850" stop-color="#fff" stop-opacity="0.046"/>
<stop offset="0.866" stop-color="#fff" stop-opacity="0.05"/>
<stop offset="0.878" stop-color="#fff" stop-opacity="0.042"/>
<stop offset="0.900" stop-color="#fff" stop-opacity="0.026"/>
<stop offset="0.906" stop-color="#fff" stop-opacity="0.021"/>
<stop offset="0.913" stop-color="#fff" stop-opacity="0.023"/>
<stop offset="0.925" stop-color="#fff" stop-opacity="0.028"/>
<stop offset="0.934" stop-color="#fff" stop-opacity="0.029"/>
<stop offset="0.945" stop-color="#fff" stop-opacity="0.029"/>
<stop offset="0.956" stop-color="#fff" stop-opacity="0.022"/>
<stop offset="0.963" stop-color="#fff" stop-opacity="0.015"/>
<stop offset="0.966" stop-color="#fff" stop-opacity="0.01"/>
<stop offset="0.973" stop-color="#fff" stop-opacity="0.005"/>
<stop offset="0.988" stop-color="#fff" stop-opacity="0.001"/>
<stop offset="1.000" stop-color="#fff" stop-opacity="0"/>
</linearGradient>
<linearGradient id="g4M" gradientUnits="userSpaceOnUse" x1="76.0" x2="396.4">
<stop offset="0.000" stop-color="#fff" stop-opacity="0"/>
<stop offset="0.025" stop-color="#fff" stop-opacity="0.006"/>
<stop offset="0.044" stop-color="#fff" stop-opacity="0.007"/>
<stop offset="0.063" stop-color="#fff" stop-opacity="0.007"/>
<stop offset="0.083" stop-color="#fff" stop-opacity="0.008"/>
<stop offset="0.102" stop-color="#fff" stop-opacity="0.009"/>
<stop offset="0.121" stop-color="#fff" stop-opacity="0.01"/>
<stop offset="0.140" stop-color="#fff" stop-opacity="0.011"/>
<stop offset="0.159" stop-color="#fff" stop-opacity="0.011"/>
<stop offset="0.178" stop-color="#fff" stop-opacity="0.012"/>
<stop offset="0.197" stop-color="#fff" stop-opacity="0.013"/>
<stop offset="0.216" stop-color="#fff" stop-opacity="0.014"/>
<stop offset="0.235" stop-color="#fff" stop-opacity="0.015"/>
<stop offset="0.254" stop-color="#fff" stop-opacity="0.017"/>
<stop offset="0.273" stop-color="#fff" stop-opacity="0.018"/>
<stop offset="0.292" stop-color="#fff" stop-opacity="0.019"/>
<stop offset="0.311" stop-color="#fff" stop-opacity="0.02"/>
<stop offset="0.330" stop-color="#fff" stop-opacity="0.021"/>
<stop offset="0.349" stop-color="#fff" stop-opacity="0.023"/>
<stop offset="0.368" stop-color="#fff" stop-opacity="0.024"/>
<stop offset="0.387" stop-color="#fff" stop-opacity="0.025"/>
<stop offset="0.405" stop-color="#fff" stop-opacity="0.028"/>
<stop offset="0.423" stop-color="#fff" stop-opacity="0.031"/>
<stop offset="0.441" stop-color="#fff" stop-opacity="0.034"/>
<stop offset="0.459" stop-color="#fff" stop-opacity="0.038"/>
<stop offset="0.477" stop-color="#fff" stop-opacity="0.041"/>
<stop offset="0.495" stop-color="#fff" stop-opacity="0.045"/>
<stop offset="0.513" stop-color="#fff" stop-opacity="0.049"/>
<stop offset="0.531" stop-color="#fff" stop-opacity="0.053"/>
<stop offset="0.550" stop-color="#fff" stop-opacity="0.06"/>
<stop offset="0.569" stop-color="#fff" stop-opacity="0.066"/>
<stop offset="0.587" stop-color="#fff" stop-opacity="0.071"/>
<stop offset="0.604" stop-color="#fff" stop-opacity="0.076"/>
<stop offset="0.621" stop-color="#fff" stop-opacity="0.081"/>
<stop offset="0.641" stop-color="#fff" stop-opacity="0.101"/>
<stop offset="0.662" stop-color="#fff" stop-opacity="0.12"/>
<stop offset="0.682" stop-color="#fff" stop-opacity="0.14"/>
<stop offset="0.702" stop-color="#fff" stop-opacity="0.161"/>
<stop offset="0.710" stop-color="#fff" stop-opacity="0.181"/>
<stop offset="0.733" stop-color="#fff" stop-opacity="0.209"/>
<stop offset="0.757" stop-color="#fff" stop-opacity="0.238"/>
<stop offset="0.772" stop-color="#fff" stop-opacity="0.255"/>
<stop offset="0.788" stop-color="#fff" stop-opacity="0.273"/>
<stop offset="0.806" stop-color="#fff" stop-opacity="0.409"/>
<stop offset="0.819" stop-color="#fff" stop-opacity="0.461"/>
<stop offset="0.825" stop-color="#fff" stop-opacity="0.487"/>
<stop offset="0.850" stop-color="#fff" stop-opacity="0.721"/>
<stop offset="0.866" stop-color="#fff" stop-opacity="0.77"/>
<stop offset="0.878" stop-color="#fff" stop-opacity="0.829"/>
<stop offset="0.900" stop-color="#fff" stop-opacity="0.911"/>
<stop offset="0.906" stop-color="#fff" stop-opacity="0.934"/>
<stop offset="0.913" stop-color="#fff" stop-opacity="0.943"/>
<stop offset="0.925" stop-color="#fff" stop-opacity="0.923"/>
<stop offset="0.934" stop-color="#fff" stop-opacity="0.865"/>
<stop offset="0.945" stop-color="#fff" stop-opacity="0.756"/>
<stop offset="0.956" stop-color="#fff" stop-opacity="0.506"/>
<stop offset="0.963" stop-color="#fff" stop-opacity="0.322"/>
<stop offset="0.966" stop-color="#fff" stop-opacity="0.201"/>
<stop offset="0.973" stop-color="#fff" stop-opacity="0.1"/>
<stop offset="0.988" stop-color="#fff" stop-opacity="0.02"/>
<stop offset="1.000" stop-color="#fff" stop-opacity="0"/>
</linearGradient>
<linearGradient id="g9W" gradientUnits="userSpaceOnUse" x1="303.4" x2="396.4">
<stop offset="0.000" stop-color="#fff" stop-opacity="0"/>
<stop offset="0.067" stop-color="#fff" stop-opacity="0.005"/>
<stop offset="0.134" stop-color="#fff" stop-opacity="0.01"/>
<stop offset="0.202" stop-color="#fff" stop-opacity="0.016"/>
<stop offset="0.269" stop-color="#fff" stop-opacity="0.021"/>
<stop offset="0.333" stop-color="#fff" stop-opacity="0.039"/>
<stop offset="0.398" stop-color="#fff" stop-opacity="0.055"/>
<stop offset="0.484" stop-color="#fff" stop-opacity="0.099"/>
<stop offset="0.532" stop-color="#fff" stop-opacity="0.116"/>
<stop offset="0.581" stop-color="#fff" stop-opacity="0.133"/>
<stop offset="0.656" stop-color="#fff" stop-opacity="0.143"/>
<stop offset="0.699" stop-color="#fff" stop-opacity="0.147"/>
<stop offset="0.742" stop-color="#fff" stop-opacity="0.145"/>
<stop offset="0.774" stop-color="#fff" stop-opacity="0.137"/>
<stop offset="0.812" stop-color="#fff" stop-opacity="0.121"/>
<stop offset="0.849" stop-color="#fff" stop-opacity="0.082"/>
<stop offset="0.871" stop-color="#fff" stop-opacity="0.052"/>
<stop offset="0.882" stop-color="#fff" stop-opacity="0.033"/>
<stop offset="0.909" stop-color="#fff" stop-opacity="0.016"/>
<stop offset="0.957" stop-color="#fff" stop-opacity="0.003"/>
<stop offset="1.000" stop-color="#fff" stop-opacity="0"/>
</linearGradient>
</defs>
<g filter="url(#cm)">
<path d="M83.0,19.27 88.0,19.28 94.0,19.31 100.0,19.35 106.0,19.40 112.0,19.44 118.0,19.52 124.0,19.63 130.0,19.77 135.8,19.93 141.7,20.11 147.5,20.27 153.3,20.44 159.2,20.61 165.0,20.77 170.8,20.93 176.7,21.08 182.5,21.19 188.3,21.26 194.2,21.30 200.0,21.30 205.8,21.30 211.5,21.28 217.2,21.24 223.0,21.16 228.8,21.05 234.5,20.92 240.2,20.79 246.0,20.67 251.1,20.57 256.1,20.48 261.2,20.39 270.0,20.24 276.5,20.13 283.0,20.02 289.5,19.90 296.0,19.78 303.1,19.65 310.2,19.53 315.7,19.46 321.2,19.41 325.2,19.37 331.2,19.32 335.2,19.29 341.2,19.25 345.2,19.23 353.2,19.18 356.2,19.17 361.2,19.14 367.2,19.11 369.2,19.10 373.2,19.09 378.7,19.07 381.7,19.06 382.9,19.06 385.9,19.05 388.0,19.05 389.5,19.05 392.0,19.05 396.2,19.05 399.2,19.05" fill="none" stroke="url(#g0T)" stroke-width="1.5" style="mix-blend-mode:plus-lighter"/>
<path d="M83.0,19.27 88.0,19.28 94.0,19.31 100.0,19.35 106.0,19.40 112.0,19.44 118.0,19.52 124.0,19.63 130.0,19.77 135.8,19.93 141.7,20.11 147.5,20.27 153.3,20.44 159.2,20.61 165.0,20.77 170.8,20.93 176.7,21.08 182.5,21.19 188.3,21.26 194.2,21.30 200.0,21.30 205.8,21.30 211.5,21.28 217.2,21.24 223.0,21.16 228.8,21.05 234.5,20.92 240.2,20.79 246.0,20.67 251.1,20.57 256.1,20.48 261.2,20.39 270.0,20.24 276.5,20.13 283.0,20.02 289.5,19.90 296.0,19.78 303.1,19.65 310.2,19.53 315.7,19.46 321.2,19.41 325.2,19.37 331.2,19.32 335.2,19.29 341.2,19.25 345.2,19.23 353.2,19.18 356.2,19.17 361.2,19.14 367.2,19.11 369.2,19.10 373.2,19.09 378.7,19.07 381.7,19.06 382.9,19.06 385.9,19.05 388.0,19.05 389.5,19.05 392.0,19.05 396.2,19.05 399.2,19.05" fill="none" stroke="url(#g0M)" stroke-width="1.5" filter="url(#sb1)" style="mix-blend-mode:plus-lighter"/>
<path d="M306.2,19.59 310.2,19.53 317.7,19.44 325.2,19.37 331.2,19.32 335.2,19.29 341.2,19.25 345.2,19.23 353.2,19.18 361.2,19.14 367.2,19.11 373.2,19.09 378.7,19.07 381.7,19.06 382.9,19.06 385.9,19.05 388.0,19.05 389.5,19.05 392.0,19.05 396.2,19.05 399.2,19.05" fill="none" stroke="url(#g5W)" stroke-width="2.0" filter="url(#sb3)" style="mix-blend-mode:plus-lighter"/>
<path d="M212.0,64.15 218.5,64.13 225.0,64.09 231.0,64.04 237.0,63.98 243.0,63.93 249.0,63.87 255.0,63.80 261.0,63.73 265.5,63.67 270.0,63.61 276.0,63.52 282.0,63.43 288.0,63.33 294.0,63.24 300.0,63.14 307.5,63.00 315.0,62.85 320.2,62.75 325.4,62.64 328.0,62.60 332.7,62.51 337.4,62.42 344.4,62.30 350.4,62.22 351.4,62.20 356.4,62.14 358.9,62.12 362.4,62.10 363.7,62.09 366.2,62.08 370.4,62.06 373.4,62.05" fill="none" stroke="url(#g1T)" stroke-width="1.5" style="mix-blend-mode:plus-lighter"/>
<path d="M212.0,64.15 218.5,64.13 225.0,64.09 231.0,64.04 237.0,63.98 243.0,63.93 249.0,63.87 255.0,63.80 261.0,63.73 265.5,63.67 270.0,63.61 276.0,63.52 282.0,63.43 288.0,63.33 294.0,63.24 300.0,63.14 307.5,63.00 315.0,62.85 320.2,62.75 325.4,62.64 328.0,62.60 332.7,62.51 337.4,62.42 344.4,62.30 350.4,62.22 351.4,62.20 356.4,62.14 358.9,62.12 362.4,62.10 363.7,62.09 366.2,62.08 370.4,62.06 373.4,62.05" fill="none" stroke="url(#g1M)" stroke-width="1.5" filter="url(#sb1)" style="mix-blend-mode:plus-lighter"/>
<path d="M337.4,62.42 344.4,62.30 350.4,62.22 351.4,62.20 356.4,62.14 358.9,62.12 362.4,62.10 363.7,62.09 366.2,62.08 370.4,62.06" fill="none" stroke="url(#g1H)" stroke-width="1.5" filter="url(#sb2)" style="mix-blend-mode:plus-lighter"/>
<path d="M280.4,63.45 286.9,63.35 293.5,63.25 300.0,63.14 307.5,63.00 315.0,62.85 321.5,62.72 328.0,62.60 332.7,62.51 337.4,62.42 344.4,62.30 351.4,62.20 356.4,62.14 358.9,62.12 362.4,62.10 363.7,62.09 366.2,62.08 370.4,62.06 373.4,62.05" fill="none" stroke="url(#g6W)" stroke-width="2.0" filter="url(#sb3)" style="mix-blend-mode:plus-lighter"/>
<path d="M108.0,105.58 116.0,105.75 121.7,105.88 127.3,106.02 133.0,106.16 138.7,106.31 144.3,106.45 150.0,106.58 156.2,106.70 162.5,106.82 168.8,106.93 175.0,107.04 181.2,107.12 187.5,107.17 193.8,107.20 200.0,107.20 205.8,107.20 211.5,107.20 217.2,107.20 223.0,107.20 228.8,107.20 234.5,107.20 240.2,107.19 246.0,107.16 252.2,107.10 258.4,107.02 263.8,106.94 269.2,106.86 274.6,106.77 280.0,106.68 286.0,106.58 292.0,106.46 298.0,106.34 304.0,106.22 310.0,106.10 313.4,106.03 318.4,105.93 326.4,105.77 333.4,105.63 338.4,105.54 344.9,105.42 351.4,105.31 353.4,105.28 358.4,105.19 363.4,105.11 366.4,105.07 373.4,104.97 379.4,104.90 382.2,104.87 385.2,104.85 386.2,104.85 386.7,104.84 389.2,104.83 393.4,104.81 396.4,104.80" fill="none" stroke="url(#g2T)" stroke-width="1.5" style="mix-blend-mode:plus-lighter"/>
<path d="M108.0,105.58 116.0,105.75 121.7,105.88 127.3,106.02 133.0,106.16 138.7,106.31 144.3,106.45 150.0,106.58 156.2,106.70 162.5,106.82 168.8,106.93 175.0,107.04 181.2,107.12 187.5,107.17 193.8,107.20 200.0,107.20 205.8,107.20 211.5,107.20 217.2,107.20 223.0,107.20 228.8,107.20 234.5,107.20 240.2,107.19 246.0,107.16 252.2,107.10 258.4,107.02 263.8,106.94 269.2,106.86 274.6,106.77 280.0,106.68 286.0,106.58 292.0,106.46 298.0,106.34 304.0,106.22 310.0,106.10 313.4,106.03 318.4,105.93 326.4,105.77 333.4,105.63 338.4,105.54 344.9,105.42 351.4,105.31 353.4,105.28 358.4,105.19 363.4,105.11 366.4,105.07 373.4,104.97 379.4,104.90 382.2,104.87 385.2,104.85 386.2,104.85 386.7,104.84 389.2,104.83 393.4,104.81 396.4,104.80" fill="none" stroke="url(#g2M)" stroke-width="1.5" filter="url(#sb1)" style="mix-blend-mode:plus-lighter"/>
<path d="M303.4,106.23 310.0,106.10 313.4,106.03 319.9,105.90 326.4,105.77 333.4,105.63 338.4,105.54 344.9,105.42 351.4,105.31 357.4,105.21 363.4,105.11 368.4,105.04 373.4,104.97 379.4,104.90 382.2,104.87 385.2,104.85 386.2,104.85 386.7,104.84 389.2,104.83 393.4,104.81 396.4,104.80" fill="none" stroke="url(#g7W)" stroke-width="2.0" filter="url(#sb3)" style="mix-blend-mode:plus-lighter"/>
<path d="M104.0,150.05 112.0,150.18 118.3,150.32 124.7,150.46 131.0,150.63 137.3,150.80 143.7,150.97 150.0,151.12 156.2,151.25 162.5,151.37 168.8,151.48 175.0,151.59 181.2,151.66 187.5,151.69 193.8,151.69 200.0,151.65 205.8,151.61 211.5,151.57 217.2,151.54 223.0,151.50 228.8,151.46 234.5,151.42 240.2,151.38 246.0,151.31 251.2,151.23 256.3,151.14 261.5,151.03 267.7,150.90 273.8,150.77 280.0,150.64 286.2,150.50 292.5,150.36 298.8,150.21 305.0,150.08 307.5,150.03 314.5,149.90 321.5,149.80 329.5,149.69 336.5,149.61 341.5,149.57 346.0,149.54 350.5,149.52 356.5,149.51 359.5,149.50 366.5,149.48 369.5,149.48 371.5,149.47 376.5,149.46 379.0,149.46 382.3,149.46 386.0,149.45 387.6,149.45 388.6,149.45 391.1,149.45 395.5,149.45 399.5,149.45" fill="none" stroke="url(#g3T)" stroke-width="1.5" style="mix-blend-mode:plus-lighter"/>
<path d="M104.0,150.05 112.0,150.18 118.3,150.32 124.7,150.46 131.0,150.63 137.3,150.80 143.7,150.97 150.0,151.12 156.2,151.25 162.5,151.37 168.8,151.48 175.0,151.59 181.2,151.66 187.5,151.69 193.8,151.69 200.0,151.65 205.8,151.61 211.5,151.57 217.2,151.54 223.0,151.50 228.8,151.46 234.5,151.42 240.2,151.38 246.0,151.31 251.2,151.23 256.3,151.14 261.5,151.03 267.7,150.90 273.8,150.77 280.0,150.64 286.2,150.50 292.5,150.36 298.8,150.21 305.0,150.08 307.5,150.03 314.5,149.90 321.5,149.80 329.5,149.69 336.5,149.61 341.5,149.57 346.0,149.54 350.5,149.52 356.5,149.51 359.5,149.50 366.5,149.48 369.5,149.48 371.5,149.47 376.5,149.46 379.0,149.46 382.3,149.46 386.0,149.45 387.6,149.45 388.6,149.45 391.1,149.45 395.5,149.45 399.5,149.45" fill="none" stroke="url(#g3M)" stroke-width="1.5" filter="url(#sb1)" style="mix-blend-mode:plus-lighter"/>
<path d="M306.5,150.05 307.5,150.03 313.0,149.93 318.5,149.84 324.0,149.76 329.5,149.69 336.5,149.61 341.5,149.57 346.0,149.54 350.5,149.52 355.0,149.51 359.5,149.50 366.5,149.48 371.5,149.47 376.5,149.46 379.0,149.46 382.3,149.46 386.0,149.45 387.6,149.45 388.6,149.45 391.1,149.45 395.5,149.45 399.5,149.45" fill="none" stroke="url(#g8W)" stroke-width="2.0" filter="url(#sb3)" style="mix-blend-mode:plus-lighter"/>
<path d="M76.0,194.95 84.0,195.00 90.2,195.07 96.3,195.17 102.5,195.29 108.7,195.41 114.8,195.54 121.0,195.67 127.1,195.82 133.2,195.99 139.2,196.15 145.3,196.31 151.4,196.45 157.5,196.58 163.5,196.69 169.6,196.80 175.7,196.89 181.8,196.95 187.8,196.96 193.9,196.92 200.0,196.84 205.8,196.77 211.5,196.70 217.2,196.62 223.0,196.55 228.8,196.47 234.5,196.40 240.2,196.32 246.0,196.23 252.2,196.12 258.4,195.99 263.9,195.88 269.5,195.77 275.0,195.65 281.5,195.51 288.0,195.36 294.5,195.21 301.0,195.06 303.4,195.01 310.9,194.86 318.4,194.74 323.4,194.67 328.4,194.60 334.4,194.53 338.4,194.49 340.4,194.47 348.4,194.41 353.4,194.38 357.4,194.36 364.4,194.33 366.4,194.32 368.4,194.31 372.4,194.29 375.4,194.28 378.9,194.27 382.4,194.26 384.4,194.26 385.4,194.25 387.9,194.25 392.4,194.25 396.4,194.25" fill="none" stroke="url(#g4T)" stroke-width="1.5" style="mix-blend-mode:plus-lighter"/>
<path d="M76.0,194.95 84.0,195.00 90.2,195.07 96.3,195.17 102.5,195.29 108.7,195.41 114.8,195.54 121.0,195.67 127.1,195.82 133.2,195.99 139.2,196.15 145.3,196.31 151.4,196.45 157.5,196.58 163.5,196.69 169.6,196.80 175.7,196.89 181.8,196.95 187.8,196.96 193.9,196.92 200.0,196.84 205.8,196.77 211.5,196.70 217.2,196.62 223.0,196.55 228.8,196.47 234.5,196.40 240.2,196.32 246.0,196.23 252.2,196.12 258.4,195.99 263.9,195.88 269.5,195.77 275.0,195.65 281.5,195.51 288.0,195.36 294.5,195.21 301.0,195.06 303.4,195.01 310.9,194.86 318.4,194.74 323.4,194.67 328.4,194.60 334.4,194.53 338.4,194.49 340.4,194.47 348.4,194.41 353.4,194.38 357.4,194.36 364.4,194.33 366.4,194.32 368.4,194.31 372.4,194.29 375.4,194.28 378.9,194.27 382.4,194.26 384.4,194.26 385.4,194.25 387.9,194.25 392.4,194.25 396.4,194.25" fill="none" stroke="url(#g4M)" stroke-width="1.5" filter="url(#sb1)" style="mix-blend-mode:plus-lighter"/>
<path d="M303.4,195.01 309.6,194.89 315.9,194.78 322.1,194.69 328.4,194.60 334.4,194.53 340.4,194.47 348.4,194.41 352.9,194.39 357.4,194.36 364.4,194.33 368.4,194.31 372.4,194.29 375.4,194.28 378.9,194.27 382.4,194.26 384.4,194.26 385.4,194.25 387.9,194.25 392.4,194.25 396.4,194.25" fill="none" stroke="url(#g9W)" stroke-width="2.0" filter="url(#sb3)" style="mix-blend-mode:plus-lighter"/>
</g>
<rect x="58.9" y="1.25" width="368.1" height="36.3" fill="none" stroke="#000" stroke-width="1.5"/>
<line x1="52.6" y1="6.7" x2="58.9" y2="6.7" stroke="#000" stroke-width="1.5"/>
<line x1="55.8" y1="13.3" x2="58.9" y2="13.3" stroke="#000" stroke-width="1.5"/>
<line x1="52.6" y1="19.9" x2="58.9" y2="19.9" stroke="#000" stroke-width="1.5"/>
<line x1="55.8" y1="26.5" x2="58.9" y2="26.5" stroke="#000" stroke-width="1.5"/>
<line x1="52.6" y1="33.0" x2="58.9" y2="33.0" stroke="#000" stroke-width="1.5"/>
<text x="51.7" y="9.8" font-size="10.2" text-anchor="end">12</text>
<text x="51.7" y="23.0" font-size="10.2" text-anchor="end">0</text>
<text x="51.7" y="36.2" font-size="10.2" text-anchor="end">-12</text>
<line x1="92.8" y1="37.55" x2="92.8" y2="42.8" stroke="#000" stroke-width="1.5"/>
<line x1="164.9" y1="37.55" x2="164.9" y2="42.8" stroke="#000" stroke-width="1.5"/>
<line x1="236.7" y1="37.55" x2="236.7" y2="42.8" stroke="#000" stroke-width="1.5"/>
<line x1="308.6" y1="37.55" x2="308.6" y2="42.8" stroke="#000" stroke-width="1.5"/>
<line x1="380.4" y1="37.55" x2="380.4" y2="42.8" stroke="#000" stroke-width="1.5"/>
<rect x="58.9" y="45.3" width="368.1" height="36.3" fill="none" stroke="#000" stroke-width="1.5"/>
<line x1="52.6" y1="50.7" x2="58.9" y2="50.7" stroke="#000" stroke-width="1.5"/>
<line x1="55.8" y1="57.3" x2="58.9" y2="57.3" stroke="#000" stroke-width="1.5"/>
<line x1="52.6" y1="63.9" x2="58.9" y2="63.9" stroke="#000" stroke-width="1.5"/>
<line x1="55.8" y1="70.5" x2="58.9" y2="70.5" stroke="#000" stroke-width="1.5"/>
<line x1="52.6" y1="77.1" x2="58.9" y2="77.1" stroke="#000" stroke-width="1.5"/>
<text x="51.7" y="53.9" font-size="10.2" text-anchor="end">12</text>
<text x="51.7" y="67.0" font-size="10.2" text-anchor="end">0</text>
<text x="51.7" y="80.2" font-size="10.2" text-anchor="end">-12</text>
<line x1="92.8" y1="81.6" x2="92.8" y2="86.8" stroke="#000" stroke-width="1.5"/>
<line x1="164.9" y1="81.6" x2="164.9" y2="86.8" stroke="#000" stroke-width="1.5"/>
<line x1="236.7" y1="81.6" x2="236.7" y2="86.8" stroke="#000" stroke-width="1.5"/>
<line x1="308.6" y1="81.6" x2="308.6" y2="86.8" stroke="#000" stroke-width="1.5"/>
<line x1="380.4" y1="81.6" x2="380.4" y2="86.8" stroke="#000" stroke-width="1.5"/>
<rect x="58.9" y="88.75" width="368.1" height="36.3" fill="none" stroke="#000" stroke-width="1.5"/>
<line x1="52.6" y1="94.1" x2="58.9" y2="94.1" stroke="#000" stroke-width="1.5"/>
<line x1="55.8" y1="100.8" x2="58.9" y2="100.8" stroke="#000" stroke-width="1.5"/>
<line x1="52.6" y1="107.3" x2="58.9" y2="107.3" stroke="#000" stroke-width="1.5"/>
<line x1="55.8" y1="113.9" x2="58.9" y2="113.9" stroke="#000" stroke-width="1.5"/>
<line x1="52.6" y1="120.5" x2="58.9" y2="120.5" stroke="#000" stroke-width="1.5"/>
<text x="51.7" y="97.3" font-size="10.2" text-anchor="end">12</text>
<text x="51.7" y="110.5" font-size="10.2" text-anchor="end">0</text>
<text x="51.7" y="123.7" font-size="10.2" text-anchor="end">-12</text>
<line x1="92.8" y1="125.05" x2="92.8" y2="130.2" stroke="#000" stroke-width="1.5"/>
<line x1="164.9" y1="125.05" x2="164.9" y2="130.2" stroke="#000" stroke-width="1.5"/>
<line x1="236.7" y1="125.05" x2="236.7" y2="130.2" stroke="#000" stroke-width="1.5"/>
<line x1="308.6" y1="125.05" x2="308.6" y2="130.2" stroke="#000" stroke-width="1.5"/>
<line x1="380.4" y1="125.05" x2="380.4" y2="130.2" stroke="#000" stroke-width="1.5"/>
<rect x="58.9" y="132.5" width="368.1" height="36.3" fill="none" stroke="#000" stroke-width="1.5"/>
<line x1="52.6" y1="137.9" x2="58.9" y2="137.9" stroke="#000" stroke-width="1.5"/>
<line x1="55.8" y1="144.5" x2="58.9" y2="144.5" stroke="#000" stroke-width="1.5"/>
<line x1="52.6" y1="151.1" x2="58.9" y2="151.1" stroke="#000" stroke-width="1.5"/>
<line x1="55.8" y1="157.7" x2="58.9" y2="157.7" stroke="#000" stroke-width="1.5"/>
<line x1="52.6" y1="164.3" x2="58.9" y2="164.3" stroke="#000" stroke-width="1.5"/>
<text x="51.7" y="141.1" font-size="10.2" text-anchor="end">12</text>
<text x="51.7" y="154.2" font-size="10.2" text-anchor="end">0</text>
<text x="51.7" y="167.4" font-size="10.2" text-anchor="end">-12</text>
<line x1="92.8" y1="168.8" x2="92.8" y2="174.0" stroke="#000" stroke-width="1.5"/>
<line x1="164.9" y1="168.8" x2="164.9" y2="174.0" stroke="#000" stroke-width="1.5"/>
<line x1="236.7" y1="168.8" x2="236.7" y2="174.0" stroke="#000" stroke-width="1.5"/>
<line x1="308.6" y1="168.8" x2="308.6" y2="174.0" stroke="#000" stroke-width="1.5"/>
<line x1="380.4" y1="168.8" x2="380.4" y2="174.0" stroke="#000" stroke-width="1.5"/>
<rect x="58.9" y="176.05" width="368.1" height="36.3" fill="none" stroke="#000" stroke-width="1.5"/>
<line x1="52.6" y1="181.5" x2="58.9" y2="181.5" stroke="#000" stroke-width="1.5"/>
<line x1="55.8" y1="188.1" x2="58.9" y2="188.1" stroke="#000" stroke-width="1.5"/>
<line x1="52.6" y1="194.7" x2="58.9" y2="194.7" stroke="#000" stroke-width="1.5"/>
<line x1="55.8" y1="201.2" x2="58.9" y2="201.2" stroke="#000" stroke-width="1.5"/>
<line x1="52.6" y1="207.8" x2="58.9" y2="207.8" stroke="#000" stroke-width="1.5"/>
<text x="51.7" y="184.6" font-size="10.2" text-anchor="end">12</text>
<text x="51.7" y="197.8" font-size="10.2" text-anchor="end">0</text>
<text x="51.7" y="211.0" font-size="10.2" text-anchor="end">-12</text>
<line x1="92.8" y1="212.35000000000002" x2="92.8" y2="217.6" stroke="#000" stroke-width="1.5"/>
<line x1="164.9" y1="212.35000000000002" x2="164.9" y2="217.6" stroke="#000" stroke-width="1.5"/>
<line x1="236.7" y1="212.35000000000002" x2="236.7" y2="217.6" stroke="#000" stroke-width="1.5"/>
<line x1="308.6" y1="212.35000000000002" x2="308.6" y2="217.6" stroke="#000" stroke-width="1.5"/>
<line x1="380.4" y1="212.35000000000002" x2="380.4" y2="217.6" stroke="#000" stroke-width="1.5"/>
<text x="63.2" y="19.6" font-size="16">(a)</text>
<text x="98" y="19.4" font-size="11.6">#45</text>
<text x="98" y="61.6" font-size="11.6">#46</text>
<text x="98" y="105.8" font-size="11.6">#47</text>
<text x="98" y="148.4" font-size="11.6">#48</text>
<text x="98" y="191.3" font-size="11.6">#49</text>
<text x="92.8" y="229.6" font-size="10.2" text-anchor="middle">50</text>
<text x="164.9" y="229.6" font-size="10.2" text-anchor="middle">68</text>
<text x="236.7" y="229.6" font-size="10.2" text-anchor="middle">97</text>
<text x="308.6" y="229.6" font-size="10.2" text-anchor="middle">143</text>
<text x="380.4" y="229.6" font-size="10.2" text-anchor="middle">235</text>
<text x="237.85" y="252.2" font-size="12" text-anchor="middle">Energy (MeV)</text>
<text transform="translate(29.4,100.3) rotate(-90)" font-size="11.4" text-anchor="middle">Angle (mrad)</text>
<rect x="437.4" y="36.8" width="21.8" height="175.2" fill="url(#cb)"/>
<text x="458.6" y="13.4" font-size="10.6" text-anchor="middle">Counts</text>
<text x="458.6" y="25.2" font-size="10.2" text-anchor="middle">(arb. u.)</text>
<text x="469.9" y="45.6" font-size="11" text-anchor="middle">1</text>
<text x="470.1" y="211.2" font-size="11" text-anchor="middle">0</text>
<rect x="490" y="35.6" width="1" height="7.6" fill="#dcdcdc"/>
<rect x="490" y="209.9" width="1" height="2.1" fill="#e0e0e0"/><rect x="490" y="218.7" width="1" height="2.1" fill="#e0e0e0"/>
<path d="M59.0,427.0 L59.7,426.2 L60.4,425.5 L61.1,425.9 L61.8,426.0 L62.5,422.5 L63.2,423.0 L63.9,423.5 L64.6,423.0 L65.3,423.5 L66.0,426.2 L66.7,424.2 L67.4,427.1 L68.1,424.3 L68.8,426.2 L69.5,424.3 L70.2,427.3 L70.9,426.1 L71.6,424.9 L72.3,428.4 L73.0,428.3 L73.7,428.1 L74.4,425.8 L75.1,428.6 L75.8,427.3 L76.5,425.9 L77.2,425.7 L77.9,426.3 L78.6,427.9 L79.3,425.5 L80.0,428.2 L80.7,426.9 L81.4,428.8 L82.1,426.0 L82.8,427.3 L83.5,428.2 L84.2,426.4 L84.9,427.4 L85.6,427.0 L86.3,427.0 L87.0,427.2 L87.7,429.0 L88.4,427.2 L89.1,428.5 L89.8,425.8 L90.5,427.1 L91.2,426.9 L91.9,426.9 L92.6,425.1 L93.3,427.1 L94.0,423.3 L94.7,418.1 L95.4,414.4 L96.1,420.6 L96.8,424.2 L97.5,426.5 L98.2,424.5 L98.9,426.9 L99.6,428.0 L100.3,424.1 L101.0,424.5 L101.7,422.5 L102.4,422.3 L103.1,423.9 L103.8,421.3 L104.5,421.6 L105.2,421.1 L105.9,420.2 L106.6,422.2 L107.3,423.2 L108.0,418.5 L108.7,419.6 L109.4,418.7 L110.1,419.3 L110.8,419.3 L111.5,419.2 L112.2,418.4 L112.9,419.0 L113.6,417.9 L114.3,417.7 L115.0,416.5 L115.7,416.2 L116.4,418.0 L117.1,415.8 L117.8,417.5 L118.5,415.3 L119.2,416.0 L119.9,415.1 L120.6,417.2 L121.3,416.5 L122.0,416.7 L122.7,416.4 L123.4,414.1 L124.1,415.8 L124.8,414.1 L125.5,413.3 L126.2,413.4 L126.9,412.8 L127.6,414.6 L128.3,412.7 L129.0,410.8 L129.7,412.0 L130.4,413.0 L131.1,411.5 L131.8,411.2 L132.5,412.2 L133.2,412.5 L133.9,411.6 L134.6,410.2 L135.3,411.1 L136.0,411.2 L136.7,411.3 L137.4,409.5 L138.1,409.4 L138.8,411.3 L139.5,408.4 L140.2,409.6 L140.9,408.6 L141.6,407.0 L142.3,406.9 L143.0,407.2 L143.7,407.8 L144.4,406.1 L145.1,405.4 L145.8,405.8 L146.5,405.5 L147.2,405.6 L147.9,404.5 L148.6,404.7 L149.3,405.3 L150.0,403.4 L150.7,404.1 L151.4,404.1 L152.1,402.7 L152.8,403.1 L153.5,402.2 L154.2,402.1 L154.9,402.3 L155.6,402.4 L156.3,401.3 L157.0,400.4 L157.7,401.1 L158.4,400.4 L159.1,399.2 L159.8,399.8 L160.5,399.6 L161.2,398.3 L161.9,398.2 L162.6,399.0 L163.3,398.3 L164.0,398.2 L164.7,397.1 L165.4,396.7 L166.1,395.6 L166.8,395.1 L167.5,396.2 L168.2,396.0 L168.9,394.5 L169.6,394.5 L170.3,394.3 L171.0,394.2 L171.7,393.0 L172.4,392.2 L173.1,392.3 L173.8,393.4 L174.5,391.8 L175.2,391.5 L175.9,392.3 L176.6,391.5 L177.3,391.7 L178.0,391.1 L178.7,390.8 L179.4,390.1 L180.1,389.0 L180.8,389.2 L181.5,389.4 L182.2,387.2 L182.9,388.5 L183.6,386.5 L184.3,385.9 L185.0,386.6 L185.7,386.4 L186.4,385.7 L187.1,385.7 L187.8,385.4 L188.5,384.9 L189.2,384.6 L189.9,382.7 L190.6,381.9 L191.3,383.0 L192.0,382.5 L192.7,380.8 L193.4,379.8 L194.1,379.4 L194.8,379.3 L195.5,378.3 L196.2,378.6 L196.9,377.2 L197.6,377.0 L198.3,376.6 L199.0,375.6 L199.7,375.7 L200.4,375.0 L201.1,371.8 L201.8,369.3 L202.5,368.3 L203.2,367.3 L203.9,367.7 L204.6,365.6 L205.3,364.2 L206.0,362.6 L206.7,362.3 L207.4,361.5 L208.1,359.1 L208.8,358.7 L209.5,358.0 L210.2,357.2 L210.9,356.2 L211.6,354.3 L212.3,353.3 L213.0,351.7 L213.7,350.5 L214.4,350.0 L215.1,349.5 L215.8,348.8 L216.5,347.5 L217.2,346.7 L217.9,345.7 L218.6,344.4 L219.3,343.9 L220.0,342.9 L220.7,341.7 L221.4,340.9 L222.1,339.8 L222.8,338.7 L223.5,337.9 L224.2,337.4 L224.9,336.1 L225.6,335.4 L226.3,334.5 L227.0,333.8 L227.7,333.5 L228.4,332.9 L229.1,331.6 L229.8,331.1 L230.5,330.0 L231.2,329.2 L231.9,327.9 L232.6,326.7 L233.3,326.2 L234.0,324.6 L234.7,322.9 L235.4,321.3 L236.1,319.8 L236.8,318.3 L237.5,317.3 L238.2,315.8 L238.9,315.3 L239.6,314.2 L240.3,313.0 L241.0,312.0 L241.7,310.9 L242.4,309.7 L243.1,308.4 L243.8,307.1 L244.5,305.7 L245.2,304.3 L245.9,302.8 L246.6,301.3 L247.3,299.7 L248.0,298.1 L248.7,296.4 L249.4,294.7 L250.1,293.0 L250.8,291.2 L251.5,289.4 L252.2,287.7 L252.9,285.8 L253.6,284.4 L254.3,283.5 L255.0,282.7 L255.7,282.2 L256.4,281.8 L257.1,281.5 L257.8,281.2 L258.5,281.0 L259.2,280.9 L259.9,280.8 L260.6,280.8 L261.3,281.0 L262.0,281.2 L262.7,281.5 L263.4,281.8 L264.1,282.1 L264.8,282.5 L265.5,283.1 L266.2,283.6 L266.9,284.3 L267.6,285.1 L268.3,286.0 L269.0,287.0 L269.7,288.1 L270.4,289.2 L271.1,290.3 L271.8,291.4 L272.5,292.6 L273.2,293.8 L273.9,295.1 L274.6,296.4 L275.3,297.7 L276.0,299.0 L276.7,300.3 L277.4,301.7 L278.1,303.1 L278.8,304.6 L279.5,306.1 L280.2,307.6 L280.9,309.2 L281.6,310.9 L282.3,312.9 L283.0,315.3 L283.7,318.0 L284.4,320.6 L285.1,322.8 L285.8,324.9 L286.5,327.0 L287.2,329.3 L287.9,331.9 L288.6,334.8 L289.3,337.9 L290.0,341.2 L290.7,344.5 L291.4,347.8 L292.1,351.3 L292.8,354.9 L293.5,358.5 L294.2,362.1 L294.9,365.7 L295.6,369.2 L296.3,372.8 L297.0,376.3 L297.7,379.7 L298.4,383.0 L299.1,386.1 L299.8,389.2 L300.5,392.2 L301.2,395.2 L301.9,398.1 L302.6,401.0 L303.3,403.9 L304.0,406.6 L304.7,409.3 L305.4,411.9 L306.1,414.4 L306.8,416.9 L307.5,419.3 L308.2,421.5 L308.9,423.7 L309.6,425.8 L310.3,427.9 L311.0,429.8 L311.7,431.7 L312.4,433.6 L313.1,435.5 L313.8,437.2 L314.5,438.9 L315.2,440.5 L315.9,442.0 L316.6,443.5 L317.3,444.9 L318.0,446.1 L318.7,447.2 L319.4,448.2 L320.1,449.1 L320.8,449.9 L321.5,450.7 L322.2,451.4 L322.9,452.1 L323.6,452.7 L324.3,453.3 L325.0,453.9 L325.7,454.4 L326.4,454.9 L327.1,455.4 L327.8,455.8 L328.5,456.1 L329.2,456.3 L329.9,456.5 L330.6,456.6 L331.3,456.8 L332.0,456.9 L332.7,457.0 L333.4,457.1 L334.1,457.2 L334.8,457.3 L335.5,457.3 L336.2,457.4 L336.9,457.4 L337.6,457.5 L338.3,457.6 L339.0,457.6 L339.7,457.6 L340.4,457.7 L341.1,457.7 L341.8,457.7 L342.5,457.8 L343.2,457.8 L343.9,457.8 L344.6,457.8 L345.0,457.8 L318.0,457.8 L318.0,457.8 L317.3,457.8 L316.6,457.8 L315.9,457.8 L315.2,457.8 L314.5,457.8 L313.8,457.8 L313.1,457.8 L312.4,457.8 L311.7,457.8 L311.0,457.8 L310.3,457.8 L309.6,457.8 L308.9,457.8 L308.2,457.7 L307.5,457.4 L306.8,457.0 L306.1,456.5 L305.4,456.0 L304.7,455.4 L304.0,454.7 L303.3,453.8 L302.6,452.9 L301.9,451.9 L301.2,450.9 L300.5,449.9 L299.8,448.8 L299.1,447.7 L298.4,446.5 L297.7,445.3 L297.0,444.1 L296.3,442.8 L295.6,441.6 L294.9,440.3 L294.2,439.0 L293.5,437.7 L292.8,436.4 L292.1,435.1 L291.4,433.8 L290.7,432.5 L290.0,431.2 L289.3,429.9 L288.6,428.5 L287.9,427.2 L287.2,425.9 L286.5,424.8 L285.8,423.6 L285.1,422.6 L284.4,421.6 L283.7,420.7 L283.0,419.9 L282.3,419.2 L281.6,418.6 L280.9,418.1 L280.2,417.6 L279.5,417.2 L278.8,416.7 L278.1,416.3 L277.4,415.9 L276.7,415.5 L276.0,415.1 L275.3,414.7 L274.6,414.3 L273.9,414.0 L273.2,413.6 L272.5,413.2 L271.8,412.8 L271.1,412.5 L270.4,412.1 L269.7,411.7 L269.0,411.2 L268.3,410.8 L267.6,410.4 L266.9,410.0 L266.2,409.6 L265.5,409.2 L264.8,408.7 L264.1,408.3 L263.4,408.0 L262.7,407.6 L262.0,407.2 L261.3,406.7 L260.6,406.1 L259.9,405.4 L259.2,404.2 L258.5,402.5 L257.8,400.7 L257.1,399.0 L256.4,397.3 L255.7,395.6 L255.0,393.9 L254.3,392.2 L253.6,390.4 L252.9,388.6 L252.2,386.8 L251.5,384.9 L250.8,383.0 L250.1,381.0 L249.4,379.0 L248.7,377.1 L248.0,375.1 L247.3,373.2 L246.6,371.4 L245.9,369.5 L245.2,367.6 L244.5,365.7 L243.8,363.8 L243.1,362.0 L242.4,360.3 L241.7,358.7 L241.0,357.3 L240.3,356.2 L239.6,354.9 L238.9,353.7 L238.2,353.0 L237.5,352.0 L236.8,352.0 L236.1,351.2 L235.4,351.4 L234.7,352.2 L234.0,352.2 L233.3,352.7 L232.6,353.1 L231.9,353.7 L231.2,354.1 L230.5,354.8 L229.8,355.2 L229.1,355.8 L228.4,356.4 L227.7,356.3 L227.0,357.3 L226.3,358.0 L225.6,358.8 L224.9,359.1 L224.2,360.4 L223.5,360.4 L222.8,361.6 L222.1,362.3 L221.4,362.8 L220.7,363.3 L220.0,364.5 L219.3,364.9 L218.6,366.1 L217.9,366.5 L217.2,367.6 L216.5,368.3 L215.8,368.6 L215.1,369.8 L214.4,370.3 L213.7,370.9 L213.0,372.1 L212.3,372.0 L211.6,374.5 L210.9,374.9 L210.2,375.5 L209.5,375.2 L208.8,377.3 L208.1,376.8 L207.4,378.0 L206.7,378.7 L206.0,381.0 L205.3,381.0 L204.6,381.7 L203.9,383.4 L203.2,382.4 L202.5,383.9 L201.8,384.5 L201.1,386.3 L200.4,385.7 L199.7,387.3 L199.0,387.3 L198.3,389.0 L197.6,389.9 L196.9,390.4 L196.2,392.7 L195.5,393.7 L194.8,393.7 L194.1,395.3 L193.4,396.2 L192.7,396.9 L192.0,397.8 L191.3,397.7 L190.6,399.6 L189.9,399.9 L189.2,399.9 L188.5,401.3 L187.8,401.0 L187.1,402.9 L186.4,402.6 L185.7,404.0 L185.0,405.4 L184.3,404.7 L183.6,406.7 L182.9,406.0 L182.2,408.0 L181.5,409.1 L180.8,409.3 L180.1,410.1 L179.4,408.9 L178.7,411.2 L178.0,410.3 L177.3,410.6 L176.6,411.4 L175.9,412.3 L175.2,411.5 L174.5,412.0 L173.8,412.9 L173.1,413.0 L172.4,414.8 L171.7,413.9 L171.0,414.5 L170.3,414.7 L169.6,416.2 L168.9,415.5 L168.2,416.7 L167.5,417.4 L166.8,416.9 L166.1,418.0 L165.4,416.9 L164.7,417.3 L164.0,419.0 L163.3,418.1 L162.6,418.0 L161.9,419.7 L161.2,419.9 L160.5,419.5 L159.8,420.4 L159.1,420.5 L158.4,420.7 L157.7,422.1 L157.0,422.8 L156.3,423.5 L155.6,422.5 L154.9,424.2 L154.2,425.0 L153.5,425.6 L152.8,426.2 L152.1,425.4 L151.4,425.8 L150.7,427.8 L150.0,427.3 L149.3,428.2 L148.6,428.6 L147.9,428.4 L147.2,428.5 L146.5,429.9 L145.8,430.9 L145.1,430.5 L144.4,431.1 L143.7,430.5 L143.0,431.2 L142.3,431.7 L141.6,433.3 L140.9,433.9 L140.2,434.0 L139.5,434.0 L138.8,435.1 L138.1,436.1 L137.4,434.8 L136.7,434.7 L136.0,436.3 L135.3,436.1 L134.6,438.5 L133.9,436.8 L133.2,437.0 L132.5,436.8 L131.8,437.0 L131.1,438.0 L130.4,439.2 L129.7,438.7 L129.0,439.4 L128.3,437.9 L127.6,440.0 L126.9,438.8 L126.2,439.6 L125.5,440.2 L124.8,441.3 L124.1,439.6 L123.4,440.8 L122.7,440.5 L122.0,441.6 L121.3,442.3 L120.6,441.7 L119.9,442.5 L119.2,440.5 L118.5,442.8 L117.8,441.9 L117.1,440.1 L116.4,443.5 L115.7,443.1 L115.0,443.8 L114.3,442.3 L113.6,443.9 L112.9,443.4 L112.2,444.2 L111.5,444.8 L110.8,442.9 L110.1,444.5 L109.4,444.7 L108.7,443.7 L108.0,444.5 L107.3,445.2 L106.6,444.9 L105.9,444.8 L105.2,443.3 L104.5,445.9 L103.8,445.7 L103.1,443.7 L102.4,445.7 L101.7,442.6 L101.0,444.7 L100.3,445.5 L99.6,446.2 L98.9,446.7 L98.2,446.8 L97.5,447.2 L96.8,445.6 L96.1,445.1 L95.4,448.3 L94.7,448.9 L94.0,448.2 L93.3,442.8 L92.6,448.6 L91.9,448.1 L91.2,450.4 L90.5,449.3 L89.8,447.5 L89.1,451.0 L88.4,450.7 L87.7,448.1 L87.0,452.0 L86.3,449.8 L85.6,449.9 L84.9,449.4 L84.2,451.5 L83.5,450.1 L82.8,452.3 L82.1,452.0 L81.4,452.0 L80.7,451.6 L80.0,451.7 L79.3,451.8 L78.6,451.5 L77.9,452.6 L77.2,451.6 L76.5,452.7 L75.8,449.0 L75.1,449.2 L74.4,452.5 L73.7,454.1 L73.0,451.3 L72.3,450.3 L71.6,452.2 L70.9,452.9 L70.2,450.4 L69.5,451.3 L68.8,451.1 L68.1,452.5 L67.4,452.4 L66.7,454.0 L66.0,453.2 L65.3,455.0 L64.6,454.4 L63.9,457.7 L63.2,454.6 L62.5,454.3 L61.8,456.2 L61.1,457.4 L60.4,454.7 L59.7,456.6 L59.0,457.8Z" fill="#c0c0c0"/>
<path d="M59.0,442.8 L59.7,442.9 L60.4,441.5 L61.1,438.6 L61.8,437.5 L62.5,436.6 L63.2,437.4 L63.9,436.3 L64.6,438.3 L65.3,438.1 L66.0,442.7 L66.7,437.1 L67.4,436.5 L68.1,439.2 L68.8,438.4 L69.5,437.6 L70.2,434.0 L70.9,438.9 L71.6,437.5 L72.3,438.1 L73.0,439.4 L73.7,437.4 L74.4,438.5 L75.1,439.3 L75.8,440.3 L76.5,438.2 L77.2,437.3 L77.9,436.9 L78.6,439.6 L79.3,440.0 L80.0,439.4 L80.7,439.0 L81.4,440.0 L82.1,438.6 L82.8,437.1 L83.5,439.0 L84.2,439.5 L84.9,437.9 L85.6,436.6 L86.3,437.0 L87.0,436.6 L87.7,436.7 L88.4,437.5 L89.1,436.4 L89.8,437.8 L90.5,438.4 L91.2,436.5 L91.9,436.6 L92.6,438.3 L93.3,435.7 L94.0,435.7 L94.7,433.4 L95.4,430.4 L96.1,435.1 L96.8,437.6 L97.5,436.1 L98.2,438.9 L98.9,436.4 L99.6,436.2 L100.3,434.8 L101.0,435.2 L101.7,433.4 L102.4,433.4 L103.1,430.9 L103.8,432.8 L104.5,432.4 L105.2,433.7 L105.9,432.5 L106.6,432.5 L107.3,433.5 L108.0,432.3 L108.7,431.2 L109.4,431.7 L110.1,432.6 L110.8,430.5 L111.5,431.6 L112.2,431.6 L112.9,432.2 L113.6,431.4 L114.3,430.5 L115.0,431.2 L115.7,431.0 L116.4,429.6 L117.1,431.1 L117.8,430.5 L118.5,430.2 L119.2,429.6 L119.9,427.4 L120.6,428.7 L121.3,429.9 L122.0,429.6 L122.7,429.4 L123.4,427.8 L124.1,427.6 L124.8,428.1 L125.5,428.3 L126.2,427.8 L126.9,426.6 L127.6,427.8 L128.3,427.3 L129.0,426.1 L129.7,426.2 L130.4,427.0 L131.1,425.8 L131.8,426.1 L132.5,425.0 L133.2,426.0 L133.9,424.6 L134.6,425.6 L135.3,424.3 L136.0,424.7 L136.7,423.7 L137.4,423.6 L138.1,423.0 L138.8,421.9 L139.5,421.5 L140.2,421.4 L140.9,420.8 L141.6,420.8 L142.3,419.9 L143.0,419.9 L143.7,419.5 L144.4,418.6 L145.1,417.6 L145.8,417.4 L146.5,417.6 L147.2,416.8 L147.9,416.5 L148.6,416.1 L149.3,416.0 L150.0,415.4 L150.7,414.7 L151.4,414.6 L152.1,414.5 L152.8,413.8 L153.5,413.5 L154.2,413.4 L154.9,412.8 L155.6,412.9 L156.3,412.5 L157.0,411.4 L157.7,411.8 L158.4,410.6 L159.1,410.6 L159.8,410.0 L160.5,410.1 L161.2,410.0 L161.9,409.5 L162.6,408.6 L163.3,409.2 L164.0,408.9 L164.7,408.1 L165.4,408.1 L166.1,407.4 L166.8,407.0 L167.5,406.7 L168.2,406.0 L168.9,406.2 L169.6,405.8 L170.3,405.6 L171.0,405.8 L171.7,405.3 L172.4,404.2 L173.1,404.3 L173.8,403.2 L174.5,403.7 L175.2,402.5 L175.9,402.9 L176.6,402.2 L177.3,401.1 L178.0,401.1 L178.7,401.3 L179.4,400.7 L180.1,400.4 L180.8,400.0 L181.5,398.9 L182.2,399.1 L182.9,397.7 L183.6,397.3 L184.3,396.7 L185.0,396.3 L185.7,395.9 L186.4,395.4 L187.1,394.8 L187.8,394.1 L188.5,393.7 L189.2,393.8 L189.9,393.2 L190.6,392.3 L191.3,392.1 L192.0,391.7 L192.7,390.5 L193.4,390.2 L194.1,389.2 L194.8,388.1 L195.5,386.9 L196.2,385.9 L196.9,385.7 L197.6,384.2 L198.3,384.1 L199.0,383.1 L199.7,381.8 L200.4,381.2 L201.1,381.3 L201.8,377.4 L202.5,376.3 L203.2,375.6 L203.9,374.3 L204.6,373.4 L205.3,370.9 L206.0,370.2 L206.7,369.5 L207.4,368.9 L208.1,368.1 L208.8,367.5 L209.5,366.9 L210.2,366.0 L210.9,365.2 L211.6,364.0 L212.3,363.0 L213.0,362.3 L213.7,361.4 L214.4,360.4 L215.1,359.5 L215.8,358.5 L216.5,357.7 L217.2,356.8 L217.9,355.9 L218.6,354.9 L219.3,353.7 L220.0,352.9 L220.7,352.3 L221.4,351.3 L222.1,350.5 L222.8,349.3 L223.5,348.8 L224.2,347.8 L224.9,346.8 L225.6,346.0 L226.3,345.2 L227.0,344.3 L227.7,343.9 L228.4,342.7 L229.1,342.1 L229.8,341.3 L230.5,340.2 L231.2,339.6 L231.9,338.9 L232.6,338.1 L233.3,337.6 L234.0,337.2 L234.7,336.3 L235.4,335.9 L236.1,335.2 L236.8,334.8 L237.5,334.7 L238.2,334.1 L238.9,334.0 L239.6,333.5 L240.3,333.7 L241.0,333.5 L241.7,333.5 L242.4,333.3 L243.1,333.5 L243.8,333.6 L244.5,333.7 L245.2,333.3 L245.9,333.5 L246.6,333.4 L247.3,333.5 L248.0,333.9 L248.7,334.2 L249.4,334.2 L250.1,335.0 L250.8,335.2 L251.5,335.8 L252.2,336.3 L252.9,336.7 L253.6,337.0 L254.3,337.9 L255.0,338.5 L255.7,338.7 L256.4,339.2 L257.1,340.2 L257.8,340.6 L258.5,341.3 L259.2,341.6 L259.9,341.9 L260.6,342.6 L261.3,343.1 L262.0,343.6 L262.7,344.1 L263.4,344.5 L264.1,345.0 L264.8,345.6 L265.5,346.1 L266.2,346.7 L266.9,347.3 L267.6,348.0 L268.3,348.6 L269.0,349.3 L269.7,350.0 L270.4,350.7 L271.1,351.5 L271.8,352.2 L272.5,353.1 L273.2,353.9 L273.9,354.7 L274.6,355.6 L275.3,356.5 L276.0,357.3 L276.7,358.2 L277.4,359.0 L278.1,359.9 L278.8,360.8 L279.5,361.8 L280.2,362.8 L280.9,363.9 L281.6,365.1 L282.3,366.4 L283.0,367.8 L283.7,369.3 L284.4,370.8 L285.1,372.3 L285.8,373.9 L286.5,375.6 L287.2,377.3 L287.9,379.1 L288.6,381.0 L289.3,382.9 L290.0,384.9 L290.7,386.9 L291.4,389.0 L292.1,391.1 L292.8,393.3 L293.5,395.6 L294.2,397.9 L294.9,400.2 L295.6,402.5 L296.3,404.8 L297.0,407.1 L297.7,409.5 L298.4,411.9 L299.1,414.2 L299.8,416.5 L300.5,418.8 L301.2,420.9 L301.9,423.0 L302.6,425.0 L303.3,427.0 L304.0,428.9 L304.7,430.8 L305.4,432.5 L306.1,434.2 L306.8,435.7 L307.5,437.1 L308.2,438.5 L308.9,439.8 L309.6,441.1 L310.3,442.3 L311.0,443.4 L311.7,444.4 L312.4,445.4 L313.1,446.3 L313.8,447.2 L314.5,448.0 L315.2,448.8 L315.9,449.5 L316.6,450.1 L317.3,450.7 L318.0,451.2 L318.7,451.7 L319.4,452.2 L320.1,452.7 L320.8,453.1 L321.5,453.4 L322.2,453.7 L322.9,454.0 L323.6,454.3 L324.3,454.5 L325.0,454.8 L325.7,455.0 L326.4,455.2 L327.1,455.4 L327.8,455.5 L328.5,455.7 L329.2,455.8 L329.9,456.0 L330.6,456.1 L331.3,456.2 L332.0,456.3 L332.7,456.4 L333.4,456.5 L334.1,456.6 L334.8,456.7 L335.5,456.7 L336.2,456.8 L336.9,456.9 L337.6,456.9 L338.3,457.0 L339.0,457.1 L339.7,457.1 L340.4,457.2 L341.1,457.2 L341.8,457.2 L342.5,457.3 L343.2,457.3 L343.9,457.3 L344.6,457.3 L345.3,457.4 L346.0,457.4 L346.7,457.4 L347.4,457.4 L348.1,457.4 L348.8,457.4 L349.5,457.5 L350.2,457.5 L350.9,457.5 L351.6,457.5 L352.3,457.5 L353.0,457.5 L353.7,457.5 L354.4,457.5 L355.1,457.6 L355.8,457.6 L356.5,457.6 L357.2,457.6 L357.9,457.6 L358.6,457.6 L359.3,457.6 L360.0,457.6 L360.7,457.6 L361.4,457.6 L362.1,457.6 L362.8,457.6 L363.5,457.6 L364.2,457.6 L364.9,457.6 L365.6,457.6 L366.3,457.6 L367.0,457.7 L367.7,457.7 L368.4,457.7 L369.1,457.7 L369.8,457.7 L370.5,457.7 L371.2,457.7 L371.9,457.7 L372.6,457.7 L373.3,457.7 L374.0,457.7 L374.7,457.7 L375.4,457.7 L376.1,457.7 L376.8,457.7 L377.5,457.7 L378.2,457.7 L378.9,457.7 L379.6,457.7 L380.3,457.7 L381.0,457.7 L381.7,457.7 L382.4,457.7 L383.1,457.7 L383.8,457.7 L384.5,457.7 L385.2,457.7 L385.9,457.8 L386.6,457.8 L387.3,457.8 L388.0,457.8 L388.7,457.8 L389.4,457.8 L390.1,457.8 L390.8,457.8 L391.5,457.8 L392.2,457.8 L392.9,457.8 L393.6,457.8 L394.3,457.8 L395.0,457.8 L395.7,457.8 L396.4,457.8 L397.1,457.8 L397.8,457.8 L398.5,457.8 L399.2,457.8 L399.9,457.8 L400.6,457.8 L401.3,457.8 L402.0,457.8 L402.7,457.8 L403.4,457.8 L404.1,457.8 L404.8,457.8 L405.5,457.8 L406.2,457.8 L406.9,457.8 L407.6,457.8 L408.3,457.8 L409.0,457.8 L409.7,457.8 L410.4,457.8 L411.1,457.8 L411.8,457.8 L412.5,457.8 L413.2,457.8 L413.9,457.8 L414.6,457.8 L415.3,457.8 L416.0,457.8 L416.7,457.8 L417.4,457.8 L418.1,457.8 L418.8,457.8 L419.5,457.8 L420.2,457.8 L420.9,457.8 L421.6,457.8 L422.3,457.8 L423.0,457.8 L423.7,457.8 L424.4,457.8 L425.1,457.8 L425.8,457.8 L426.5,457.8" fill="none" stroke="#000" stroke-width="1.5" stroke-linejoin="round"/>
<rect x="58.9" y="268.7" width="368.2" height="189.2" fill="none" stroke="#000" stroke-width="1.5"/>
<line x1="58.9" y1="457.9" x2="58.9" y2="463.7" stroke="#000" stroke-width="1.5"/>
<line x1="58.9" y1="268.7" x2="58.9" y2="273.7" stroke="#000" stroke-width="1.5"/>
<text x="58.9" y="475.6" font-size="10.2" text-anchor="middle">50</text>
<line x1="89.6" y1="457.9" x2="89.6" y2="461.7" stroke="#000" stroke-width="1.5"/>
<line x1="89.6" y1="268.7" x2="89.6" y2="271.7" stroke="#000" stroke-width="1.5"/>
<line x1="120.3" y1="457.9" x2="120.3" y2="463.7" stroke="#000" stroke-width="1.5"/>
<line x1="120.3" y1="268.7" x2="120.3" y2="273.7" stroke="#000" stroke-width="1.5"/>
<text x="120.3" y="475.6" font-size="10.2" text-anchor="middle">100</text>
<line x1="151.0" y1="457.9" x2="151.0" y2="461.7" stroke="#000" stroke-width="1.5"/>
<line x1="151.0" y1="268.7" x2="151.0" y2="271.7" stroke="#000" stroke-width="1.5"/>
<line x1="181.6" y1="457.9" x2="181.6" y2="463.7" stroke="#000" stroke-width="1.5"/>
<line x1="181.6" y1="268.7" x2="181.6" y2="273.7" stroke="#000" stroke-width="1.5"/>
<text x="181.6" y="475.6" font-size="10.2" text-anchor="middle">150</text>
<line x1="212.3" y1="457.9" x2="212.3" y2="461.7" stroke="#000" stroke-width="1.5"/>
<line x1="212.3" y1="268.7" x2="212.3" y2="271.7" stroke="#000" stroke-width="1.5"/>
<line x1="243.0" y1="457.9" x2="243.0" y2="463.7" stroke="#000" stroke-width="1.5"/>
<line x1="243.0" y1="268.7" x2="243.0" y2="273.7" stroke="#000" stroke-width="1.5"/>
<text x="243.0" y="475.6" font-size="10.2" text-anchor="middle">200</text>
<line x1="273.7" y1="457.9" x2="273.7" y2="461.7" stroke="#000" stroke-width="1.5"/>
<line x1="273.7" y1="268.7" x2="273.7" y2="271.7" stroke="#000" stroke-width="1.5"/>
<line x1="304.4" y1="457.9" x2="304.4" y2="463.7" stroke="#000" stroke-width="1.5"/>
<line x1="304.4" y1="268.7" x2="304.4" y2="273.7" stroke="#000" stroke-width="1.5"/>
<text x="304.4" y="475.6" font-size="10.2" text-anchor="middle">250</text>
<line x1="335.1" y1="457.9" x2="335.1" y2="461.7" stroke="#000" stroke-width="1.5"/>
<line x1="335.1" y1="268.7" x2="335.1" y2="271.7" stroke="#000" stroke-width="1.5"/>
<line x1="365.7" y1="457.9" x2="365.7" y2="463.7" stroke="#000" stroke-width="1.5"/>
<line x1="365.7" y1="268.7" x2="365.7" y2="273.7" stroke="#000" stroke-width="1.5"/>
<text x="365.7" y="475.6" font-size="10.2" text-anchor="middle">300</text>
<line x1="396.4" y1="457.9" x2="396.4" y2="461.7" stroke="#000" stroke-width="1.5"/>
<line x1="396.4" y1="268.7" x2="396.4" y2="271.7" stroke="#000" stroke-width="1.5"/>
<line x1="427.1" y1="457.9" x2="427.1" y2="463.7" stroke="#000" stroke-width="1.5"/>
<line x1="427.1" y1="268.7" x2="427.1" y2="273.7" stroke="#000" stroke-width="1.5"/>
<text x="427.1" y="475.6" font-size="10.2" text-anchor="middle">350</text>
<line x1="53.3" y1="457.9" x2="58.9" y2="457.9" stroke="#000" stroke-width="1.5"/>
<line x1="421.9" y1="457.9" x2="427.1" y2="457.9" stroke="#000" stroke-width="1.5"/>
<text x="48.8" y="461.2" font-size="10.2" text-anchor="end">0</text>
<line x1="55.6" y1="442.1" x2="58.9" y2="442.1" stroke="#000" stroke-width="1.5"/>
<line x1="423.9" y1="442.1" x2="427.1" y2="442.1" stroke="#000" stroke-width="1.5"/>
<line x1="53.3" y1="426.4" x2="58.9" y2="426.4" stroke="#000" stroke-width="1.5"/>
<line x1="421.9" y1="426.4" x2="427.1" y2="426.4" stroke="#000" stroke-width="1.5"/>
<text x="48.8" y="429.7" font-size="10.2" text-anchor="end">1</text>
<line x1="55.6" y1="410.6" x2="58.9" y2="410.6" stroke="#000" stroke-width="1.5"/>
<line x1="423.9" y1="410.6" x2="427.1" y2="410.6" stroke="#000" stroke-width="1.5"/>
<line x1="53.3" y1="394.8" x2="58.9" y2="394.8" stroke="#000" stroke-width="1.5"/>
<line x1="421.9" y1="394.8" x2="427.1" y2="394.8" stroke="#000" stroke-width="1.5"/>
<text x="48.8" y="398.1" font-size="10.2" text-anchor="end">2</text>
<line x1="55.6" y1="379.1" x2="58.9" y2="379.1" stroke="#000" stroke-width="1.5"/>
<line x1="423.9" y1="379.1" x2="427.1" y2="379.1" stroke="#000" stroke-width="1.5"/>
<line x1="53.3" y1="363.3" x2="58.9" y2="363.3" stroke="#000" stroke-width="1.5"/>
<line x1="421.9" y1="363.3" x2="427.1" y2="363.3" stroke="#000" stroke-width="1.5"/>
<text x="48.8" y="366.6" font-size="10.2" text-anchor="end">3</text>
<line x1="55.6" y1="347.5" x2="58.9" y2="347.5" stroke="#000" stroke-width="1.5"/>
<line x1="423.9" y1="347.5" x2="427.1" y2="347.5" stroke="#000" stroke-width="1.5"/>
<line x1="53.3" y1="331.8" x2="58.9" y2="331.8" stroke="#000" stroke-width="1.5"/>
<line x1="421.9" y1="331.8" x2="427.1" y2="331.8" stroke="#000" stroke-width="1.5"/>
<text x="48.8" y="335.1" font-size="10.2" text-anchor="end">4</text>
<line x1="55.6" y1="316.0" x2="58.9" y2="316.0" stroke="#000" stroke-width="1.5"/>
<line x1="423.9" y1="316.0" x2="427.1" y2="316.0" stroke="#000" stroke-width="1.5"/>
<line x1="53.3" y1="300.2" x2="58.9" y2="300.2" stroke="#000" stroke-width="1.5"/>
<line x1="421.9" y1="300.2" x2="427.1" y2="300.2" stroke="#000" stroke-width="1.5"/>
<text x="48.8" y="303.5" font-size="10.2" text-anchor="end">5</text>
<line x1="55.6" y1="284.5" x2="58.9" y2="284.5" stroke="#000" stroke-width="1.5"/>
<line x1="423.9" y1="284.5" x2="427.1" y2="284.5" stroke="#000" stroke-width="1.5"/>
<line x1="53.3" y1="268.7" x2="58.9" y2="268.7" stroke="#000" stroke-width="1.5"/>
<line x1="421.9" y1="268.7" x2="427.1" y2="268.7" stroke="#000" stroke-width="1.5"/>
<text x="48.8" y="272.0" font-size="10.2" text-anchor="end">6</text>
<text x="63.2" y="289.6" font-size="16.3">(b)</text>
<text x="237.85" y="502.3" font-size="12" text-anchor="middle">Energy (MeV)</text>
<text transform="translate(21.0,366.2) rotate(-90)" font-size="11.3" text-anchor="middle">Electrons per MeV (×10<tspan font-size="7.4" dy="-5">5</tspan><tspan dy="5">)</tspan></text>
<path d="M58.9,712.1 L60.9,708.1 L63.0,704.1 L65.0,700.1 L67.0,696.3 L69.0,692.4 L71.1,688.7 L73.1,684.9 L75.1,681.3 L77.2,677.7 L79.2,674.1 L81.2,670.6 L83.3,667.2 L85.3,663.8 L87.3,660.5 L89.3,657.2 L91.4,653.9 L93.4,650.8 L95.4,647.7 L97.5,644.6 L99.5,641.6 L101.5,638.6 L103.5,635.7 L105.6,632.9 L107.6,630.1 L109.6,627.3 L111.7,624.6 L113.7,622.0 L115.7,619.4 L117.7,616.9 L119.8,614.4 L121.8,612.0 L123.8,609.7 L125.9,607.4 L127.9,605.1 L129.9,602.9 L132.0,600.8 L134.0,598.7 L136.0,596.7 L138.0,594.7 L140.1,592.8 L142.1,590.9 L144.1,589.1 L146.2,587.3 L148.2,585.6 L150.2,583.9 L152.2,582.3 L154.3,580.8 L156.3,579.3 L158.3,577.9 L160.4,576.5 L162.4,575.1 L164.4,573.9 L166.4,572.7 L168.5,571.5 L170.5,570.4 L172.5,569.3 L174.6,568.3 L176.6,567.4 L178.6,566.5 L180.7,565.6 L182.7,564.8 L184.7,564.1 L186.7,563.4 L188.8,562.8 L190.8,562.2 L192.8,561.7 L194.9,561.3 L196.9,560.9 L198.9,560.5 L200.9,560.2 L203.0,560.0 L205.0,559.8 L207.0,559.6 L209.1,559.6 L211.1,559.5 L213.1,559.6 L215.1,559.6 L217.2,559.8 L219.2,560.0 L221.2,560.2 L223.3,560.5 L225.3,560.9 L227.3,561.3 L229.4,561.7 L231.4,562.2 L233.4,562.8 L235.4,563.4 L237.5,564.1 L239.5,564.8 L241.5,565.6 L243.6,566.5 L245.6,567.4 L247.6,568.3 L249.6,569.3 L251.7,570.4 L253.7,571.5 L255.7,572.7 L257.8,573.9 L259.8,575.2 L261.8,576.5" fill="none" stroke="#ff0000" stroke-width="1.9"/>
<rect x="58.9" y="522.8" width="368.2" height="189.3" fill="none" stroke="#000" stroke-width="1.5"/>
<line x1="58.9" y1="712.1" x2="58.9" y2="717.7" stroke="#000" stroke-width="1.5"/>
<line x1="58.9" y1="522.8" x2="58.9" y2="527.8" stroke="#000" stroke-width="1.5"/>
<text x="58.9" y="727.6" font-size="10.2" text-anchor="middle">0</text>
<line x1="99.8" y1="712.1" x2="99.8" y2="715.9" stroke="#000" stroke-width="1.5"/>
<line x1="99.8" y1="522.8" x2="99.8" y2="525.8" stroke="#000" stroke-width="1.5"/>
<line x1="140.7" y1="712.1" x2="140.7" y2="717.7" stroke="#000" stroke-width="1.5"/>
<line x1="140.7" y1="522.8" x2="140.7" y2="527.8" stroke="#000" stroke-width="1.5"/>
<text x="140.7" y="727.6" font-size="10.2" text-anchor="middle">2</text>
<line x1="181.6" y1="712.1" x2="181.6" y2="715.9" stroke="#000" stroke-width="1.5"/>
<line x1="181.6" y1="522.8" x2="181.6" y2="525.8" stroke="#000" stroke-width="1.5"/>
<line x1="222.5" y1="712.1" x2="222.5" y2="717.7" stroke="#000" stroke-width="1.5"/>
<line x1="222.5" y1="522.8" x2="222.5" y2="527.8" stroke="#000" stroke-width="1.5"/>
<text x="222.5" y="727.6" font-size="10.2" text-anchor="middle">4</text>
<line x1="263.5" y1="712.1" x2="263.5" y2="715.9" stroke="#000" stroke-width="1.5"/>
<line x1="263.5" y1="522.8" x2="263.5" y2="525.8" stroke="#000" stroke-width="1.5"/>
<line x1="304.4" y1="712.1" x2="304.4" y2="717.7" stroke="#000" stroke-width="1.5"/>
<line x1="304.4" y1="522.8" x2="304.4" y2="527.8" stroke="#000" stroke-width="1.5"/>
<text x="304.4" y="727.6" font-size="10.2" text-anchor="middle">6</text>
<line x1="345.3" y1="712.1" x2="345.3" y2="715.9" stroke="#000" stroke-width="1.5"/>
<line x1="345.3" y1="522.8" x2="345.3" y2="525.8" stroke="#000" stroke-width="1.5"/>
<line x1="386.2" y1="712.1" x2="386.2" y2="717.7" stroke="#000" stroke-width="1.5"/>
<line x1="386.2" y1="522.8" x2="386.2" y2="527.8" stroke="#000" stroke-width="1.5"/>
<text x="386.2" y="727.6" font-size="10.2" text-anchor="middle">8</text>
<line x1="427.1" y1="712.1" x2="427.1" y2="715.9" stroke="#000" stroke-width="1.5"/>
<line x1="427.1" y1="522.8" x2="427.1" y2="525.8" stroke="#000" stroke-width="1.5"/>
<line x1="53.3" y1="712.1" x2="58.9" y2="712.1" stroke="#000" stroke-width="1.5"/>
<line x1="421.9" y1="712.1" x2="427.1" y2="712.1" stroke="#000" stroke-width="1.5"/>
<text x="52.0" y="715.4" font-size="10.2" text-anchor="end">100</text>
<line x1="55.6" y1="688.4" x2="58.9" y2="688.4" stroke="#000" stroke-width="1.5"/>
<line x1="423.9" y1="688.4" x2="427.1" y2="688.4" stroke="#000" stroke-width="1.5"/>
<line x1="53.3" y1="664.8" x2="58.9" y2="664.8" stroke="#000" stroke-width="1.5"/>
<line x1="421.9" y1="664.8" x2="427.1" y2="664.8" stroke="#000" stroke-width="1.5"/>
<text x="52.0" y="668.1" font-size="10.2" text-anchor="end">150</text>
<line x1="55.6" y1="641.1" x2="58.9" y2="641.1" stroke="#000" stroke-width="1.5"/>
<line x1="423.9" y1="641.1" x2="427.1" y2="641.1" stroke="#000" stroke-width="1.5"/>
<line x1="53.3" y1="617.5" x2="58.9" y2="617.5" stroke="#000" stroke-width="1.5"/>
<line x1="421.9" y1="617.5" x2="427.1" y2="617.5" stroke="#000" stroke-width="1.5"/>
<text x="52.0" y="620.8" font-size="10.2" text-anchor="end">200</text>
<line x1="55.6" y1="593.8" x2="58.9" y2="593.8" stroke="#000" stroke-width="1.5"/>
<line x1="423.9" y1="593.8" x2="427.1" y2="593.8" stroke="#000" stroke-width="1.5"/>
<line x1="53.3" y1="570.1" x2="58.9" y2="570.1" stroke="#000" stroke-width="1.5"/>
<line x1="421.9" y1="570.1" x2="427.1" y2="570.1" stroke="#000" stroke-width="1.5"/>
<text x="52.0" y="573.4" font-size="10.2" text-anchor="end">250</text>
<line x1="55.6" y1="546.5" x2="58.9" y2="546.5" stroke="#000" stroke-width="1.5"/>
<line x1="423.9" y1="546.5" x2="427.1" y2="546.5" stroke="#000" stroke-width="1.5"/>
<line x1="53.3" y1="522.8" x2="58.9" y2="522.8" stroke="#000" stroke-width="1.5"/>
<line x1="421.9" y1="522.8" x2="427.1" y2="522.8" stroke="#000" stroke-width="1.5"/>
<text x="52.0" y="526.1" font-size="10.2" text-anchor="end">300</text>
<path d="M77.5,677.5 V693.5 M74.5,677.5 H80.5 M74.5,693.5 H80.5" fill="none" stroke="#757575" stroke-width="1"/>
<rect x="75.8" y="683.0" width="4.2" height="4.2" fill="#000"/>
<path d="M92.5,643.5 V658.5 M89.5,643.5 H95.5 M89.5,658.5 H95.5" fill="none" stroke="#757575" stroke-width="1"/>
<rect x="90.8" y="649.1" width="4.2" height="4.2" fill="#000"/>
<path d="M103.5,627.5 V639.5 M100.5,627.5 H106.5 M100.5,639.5 H106.5" fill="none" stroke="#757575" stroke-width="1"/>
<rect x="101.8" y="631.6" width="4.2" height="4.2" fill="#000"/>
<path d="M113.5,602.5 V623.5 M110.5,602.5 H116.5 M110.5,623.5 H116.5" fill="none" stroke="#757575" stroke-width="1"/>
<rect x="110.9" y="610.9" width="4.2" height="4.2" fill="#000"/>
<path d="M121.5,608.5 V619.5 M118.5,608.5 H124.5 M118.5,619.5 H124.5" fill="none" stroke="#757575" stroke-width="1"/>
<rect x="118.9" y="612.1" width="4.2" height="4.2" fill="#000"/>
<path d="M133.5,598.5 V611.5 M130.5,598.5 H136.5 M130.5,611.5 H136.5" fill="none" stroke="#757575" stroke-width="1"/>
<rect x="131.4" y="602.9" width="4.2" height="4.2" fill="#000"/>
<path d="M143.5,582.5 V609.5 M140.5,582.5 H146.5 M140.5,609.5 H146.5" fill="none" stroke="#757575" stroke-width="1"/>
<rect x="140.9" y="593.4" width="4.2" height="4.2" fill="#000"/>
<path d="M166.5,560.5 V577.5 M163.5,560.5 H169.5 M163.5,577.5 H169.5" fill="none" stroke="#757575" stroke-width="1"/>
<rect x="164.4" y="566.9" width="4.2" height="4.2" fill="#000"/>
<path d="M228.5,554.5 V586.5 M225.5,554.5 H231.5 M225.5,586.5 H231.5" fill="none" stroke="#757575" stroke-width="1"/>
<rect x="225.9" y="568.0" width="4.2" height="4.2" fill="#000"/>
<path d="M263.5,562.5 V579.5 M260.5,562.5 H266.5 M260.5,579.5 H266.5" fill="none" stroke="#757575" stroke-width="1"/>
<rect x="261.4" y="568.5" width="4.2" height="4.2" fill="#000"/>
<path d="M333.5,583.5 V595.5 M330.5,583.5 H336.5 M330.5,595.5 H336.5" fill="none" stroke="#757575" stroke-width="1"/>
<rect x="331.1" y="587.6" width="4.2" height="4.2" fill="#000"/>
<path d="M401.5,587.5 V602.5 M398.5,587.5 H404.5 M398.5,602.5 H404.5" fill="none" stroke="#757575" stroke-width="1"/>
<rect x="399.7" y="593.1" width="4.2" height="4.2" fill="#000"/>
<text x="63.2" y="541.8" font-size="16.6">(c)</text>
<text x="242.85" y="752.35" font-size="11.4" text-anchor="middle">Cell length (mm)</text>
<text transform="translate(30.1,617.7) rotate(-90)" font-size="11.45" text-anchor="middle">Cut-off energy (MeV)</text>
</svg></body></html>
